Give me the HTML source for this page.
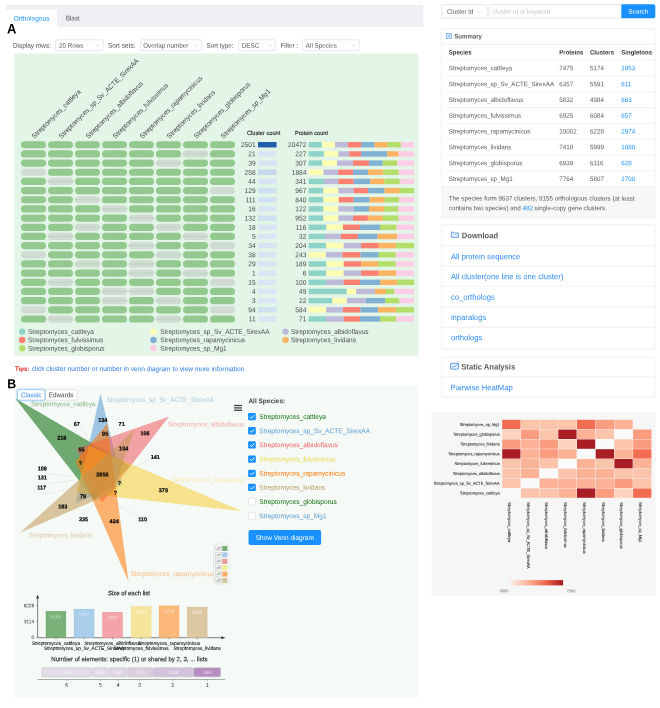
<!DOCTYPE html>
<html><head><meta charset="utf-8"><title>OrthoVenn</title>
<style>
html,body{margin:0;padding:0;background:#fff;}
body{width:660px;height:708px;position:relative;overflow:hidden;font-family:"Liberation Sans", sans-serif;}
svg{position:absolute;left:0;top:0;overflow:hidden;will-change:transform;}
svg text{font-family:"Liberation Sans", sans-serif;text-rendering:geometricPrecision;white-space:pre;}
</style></head><body>
<svg width="660" height="708" viewBox="0 0 660 708">
<rect x="6.00" y="4.80" width="417.20" height="22.20" fill="#eef0f5" />
<path d="M6 27 V11.2 Q6 9.7 7.5 9.7 H55.5 Q57 9.7 57 11.2 V27 Z" fill="#fff"/>
<text x="13.70" y="20.53" font-size="6.57" fill="#1890ff" font-weight="400" text-anchor="start" transform="translate(13.70 18.30) rotate(0.03) scale(1 1.06) translate(-13.70 -18.30)" >Orthologous</text>
<text x="65.70" y="20.48" font-size="6.4" fill="#595959" font-weight="400" text-anchor="start" transform="translate(65.70 18.30) rotate(0.03) scale(1 1.06) translate(-65.70 -18.30)" >Blast</text>
<text x="7.10" y="33.32" font-size="13" fill="#000" font-weight="700" text-anchor="start" transform="translate(7.10 28.90) rotate(0.03) scale(1 1.06) translate(-7.10 -28.90)" >A</text>
<text x="13.00" y="47.57" font-size="6.39" fill="#4a4a4a" font-weight="400" text-anchor="start" transform="translate(13.00 45.40) rotate(0.03) scale(1 1.06) translate(-13.00 -45.40)" >Display rows:</text>
<rect x="55.55" y="39.75" width="47.70" height="10.90" fill="#fff" stroke="#cfcfcf" stroke-width="0.5" rx="1.5" />
<text x="59.00" y="47.54" font-size="6.3" fill="#595959" font-weight="400" text-anchor="start" transform="translate(59.00 45.40) rotate(0.03) scale(1 1.06) translate(-59.00 -45.40)" >20 Rows</text>
<path d="M96.00 44.50 L97.90 46.50 L99.80 44.50" fill="none" stroke="#bfbfbf" stroke-width="0.55"/>
<text x="108.00" y="47.61" font-size="6.5" fill="#4a4a4a" font-weight="400" text-anchor="start" transform="translate(108.00 45.40) rotate(0.03) scale(1 1.06) translate(-108.00 -45.40)" >Sort sets:</text>
<rect x="140.25" y="39.75" width="61.50" height="10.90" fill="#fff" stroke="#cfcfcf" stroke-width="0.5" rx="1.5" />
<text x="143.20" y="47.54" font-size="6.3" fill="#595959" font-weight="400" text-anchor="start" transform="translate(143.20 45.40) rotate(0.03) scale(1 1.06) translate(-143.20 -45.40)" >Overlap number</text>
<path d="M194.50 44.50 L196.40 46.50 L198.30 44.50" fill="none" stroke="#bfbfbf" stroke-width="0.55"/>
<text x="206.50" y="47.54" font-size="6.3" fill="#4a4a4a" font-weight="400" text-anchor="start" transform="translate(206.50 45.40) rotate(0.03) scale(1 1.06) translate(-206.50 -45.40)" >Sort type:</text>
<rect x="238.75" y="39.75" width="36.50" height="10.90" fill="#fff" stroke="#cfcfcf" stroke-width="0.5" rx="1.5" />
<text x="241.80" y="47.54" font-size="6.3" fill="#595959" font-weight="400" text-anchor="start" transform="translate(241.80 45.40) rotate(0.03) scale(1 1.06) translate(-241.80 -45.40)" >DESC</text>
<path d="M268.00 44.50 L269.90 46.50 L271.80 44.50" fill="none" stroke="#bfbfbf" stroke-width="0.55"/>
<text x="280.50" y="47.54" font-size="6.3" fill="#4a4a4a" font-weight="400" text-anchor="start" transform="translate(280.50 45.40) rotate(0.03) scale(1 1.06) translate(-280.50 -45.40)" >Filter :</text>
<rect x="302.25" y="39.75" width="57.10" height="10.90" fill="#fff" stroke="#cfcfcf" stroke-width="0.5" rx="1.5" />
<text x="305.80" y="47.54" font-size="6.3" fill="#595959" font-weight="400" text-anchor="start" transform="translate(305.80 45.40) rotate(0.03) scale(1 1.06) translate(-305.80 -45.40)" >All Species</text>
<path d="M352.10 44.50 L354.00 46.50 L355.90 44.50" fill="none" stroke="#bfbfbf" stroke-width="0.55"/>
<rect x="14.20" y="53.50" width="404.30" height="302.40" fill="#e3f5e7" />
<rect x="14.20" y="385.80" width="404.40" height="311.20" fill="#f5faf6" />
<rect x="21.00" y="141.15" width="25.00" height="7.20" fill="#93c88f" rx="3.6" />
<rect x="48.00" y="141.15" width="25.00" height="7.20" fill="#93c88f" rx="3.6" />
<rect x="75.00" y="141.15" width="25.00" height="7.20" fill="#93c88f" rx="3.6" />
<rect x="102.00" y="141.15" width="25.00" height="7.20" fill="#93c88f" rx="3.6" />
<rect x="129.00" y="141.15" width="25.00" height="7.20" fill="#93c88f" rx="3.6" />
<rect x="156.00" y="141.15" width="25.00" height="7.20" fill="#93c88f" rx="3.6" />
<rect x="183.00" y="141.15" width="25.00" height="7.20" fill="#93c88f" rx="3.6" />
<rect x="210.00" y="141.15" width="25.00" height="7.20" fill="#93c88f" rx="3.6" />
<text x="255.60" y="146.99" font-size="6.6" fill="#4a4a4a" font-weight="400" text-anchor="end" transform="translate(255.60 144.75) rotate(0.03) scale(1 1.06) translate(-255.60 -144.75)" >2501</text>
<rect x="258.00" y="142.05" width="18.60" height="5.40" fill="#1f5fa9" />
<text x="306.40" y="146.99" font-size="6.6" fill="#4a4a4a" font-weight="400" text-anchor="end" transform="translate(306.40 144.75) rotate(0.03) scale(1 1.06) translate(-306.40 -144.75)" >20472</text>
<rect x="308.60" y="142.05" width="13.23" height="5.40" fill="#8dd3c7" />
<rect x="321.78" y="142.05" width="13.23" height="5.40" fill="#ffffb3" />
<rect x="334.95" y="142.05" width="13.22" height="5.40" fill="#bebada" />
<rect x="348.12" y="142.05" width="13.23" height="5.40" fill="#fb8072" />
<rect x="361.30" y="142.05" width="13.23" height="5.40" fill="#80b1d3" />
<rect x="374.48" y="142.05" width="13.22" height="5.40" fill="#fdb462" />
<rect x="387.65" y="142.05" width="13.23" height="5.40" fill="#b3de69" />
<rect x="400.82" y="142.05" width="13.23" height="5.40" fill="#fccde5" />
<rect x="21.00" y="150.32" width="25.00" height="7.20" fill="#93c88f" rx="3.6" />
<rect x="48.00" y="150.32" width="25.00" height="7.20" fill="#93c88f" rx="3.6" />
<rect x="75.00" y="150.32" width="25.00" height="7.20" fill="#93c88f" rx="3.6" />
<rect x="102.00" y="150.32" width="25.00" height="7.20" fill="#93c88f" rx="3.6" />
<rect x="129.00" y="150.32" width="25.00" height="7.20" fill="#93c88f" rx="3.6" />
<rect x="156.00" y="150.32" width="25.00" height="7.20" fill="#93c88f" rx="3.6" />
<rect x="183.00" y="150.32" width="25.00" height="7.20" fill="#d0dcd2" rx="3.6" />
<line x1="182.00" y1="153.92" x2="209.00" y2="153.92" stroke="#bccabf" stroke-width="0.6"/>
<rect x="210.00" y="150.32" width="25.00" height="7.20" fill="#93c88f" rx="3.6" />
<text x="255.60" y="156.16" font-size="6.6" fill="#4a4a4a" font-weight="400" text-anchor="end" transform="translate(255.60 153.92) rotate(0.03) scale(1 1.06) translate(-255.60 -153.92)" >21</text>
<rect x="258.00" y="151.22" width="18.60" height="5.40" fill="#d7e5f4" />
<text x="306.40" y="156.16" font-size="6.6" fill="#4a4a4a" font-weight="400" text-anchor="end" transform="translate(306.40 153.92) rotate(0.03) scale(1 1.06) translate(-306.40 -153.92)" >227</text>
<rect x="308.60" y="151.22" width="15.35" height="5.40" fill="#8dd3c7" />
<rect x="323.90" y="151.22" width="14.50" height="5.40" fill="#ffffb3" />
<rect x="338.35" y="151.22" width="11.10" height="5.40" fill="#bebada" />
<rect x="349.40" y="151.22" width="11.74" height="5.40" fill="#fb8072" />
<rect x="361.09" y="151.22" width="26.19" height="5.40" fill="#80b1d3" />
<rect x="387.23" y="151.22" width="11.52" height="5.40" fill="#fdb462" />
<rect x="398.70" y="151.22" width="15.35" height="5.40" fill="#fccde5" />
<rect x="21.00" y="159.49" width="25.00" height="7.20" fill="#93c88f" rx="3.6" />
<rect x="48.00" y="159.49" width="25.00" height="7.20" fill="#93c88f" rx="3.6" />
<rect x="75.00" y="159.49" width="25.00" height="7.20" fill="#93c88f" rx="3.6" />
<rect x="102.00" y="159.49" width="25.00" height="7.20" fill="#93c88f" rx="3.6" />
<rect x="129.00" y="159.49" width="25.00" height="7.20" fill="#93c88f" rx="3.6" />
<rect x="156.00" y="159.49" width="25.00" height="7.20" fill="#d0dcd2" rx="3.6" />
<line x1="155.00" y1="163.09" x2="182.00" y2="163.09" stroke="#bccabf" stroke-width="0.6"/>
<rect x="183.00" y="159.49" width="25.00" height="7.20" fill="#93c88f" rx="3.6" />
<rect x="210.00" y="159.49" width="25.00" height="7.20" fill="#93c88f" rx="3.6" />
<text x="255.60" y="165.33" font-size="6.6" fill="#4a4a4a" font-weight="400" text-anchor="end" transform="translate(255.60 163.09) rotate(0.03) scale(1 1.06) translate(-255.60 -163.09)" >39</text>
<rect x="258.00" y="160.39" width="18.60" height="5.40" fill="#d6e4f4" />
<text x="306.40" y="165.33" font-size="6.6" fill="#4a4a4a" font-weight="400" text-anchor="end" transform="translate(306.40 163.09) rotate(0.03) scale(1 1.06) translate(-306.40 -163.09)" >307</text>
<rect x="308.60" y="160.39" width="13.65" height="5.40" fill="#8dd3c7" />
<rect x="322.20" y="160.39" width="14.92" height="5.40" fill="#ffffb3" />
<rect x="337.07" y="160.39" width="15.99" height="5.40" fill="#bebada" />
<rect x="353.01" y="160.39" width="15.99" height="5.40" fill="#fb8072" />
<rect x="368.95" y="160.39" width="13.86" height="5.40" fill="#80b1d3" />
<rect x="382.76" y="160.39" width="14.50" height="5.40" fill="#b3de69" />
<rect x="397.21" y="160.39" width="16.84" height="5.40" fill="#fccde5" />
<rect x="21.00" y="168.66" width="25.00" height="7.20" fill="#d0dcd2" rx="3.6" />
<rect x="48.00" y="168.66" width="25.00" height="7.20" fill="#93c88f" rx="3.6" />
<rect x="75.00" y="168.66" width="25.00" height="7.20" fill="#93c88f" rx="3.6" />
<rect x="102.00" y="168.66" width="25.00" height="7.20" fill="#93c88f" rx="3.6" />
<rect x="129.00" y="168.66" width="25.00" height="7.20" fill="#93c88f" rx="3.6" />
<rect x="156.00" y="168.66" width="25.00" height="7.20" fill="#93c88f" rx="3.6" />
<rect x="183.00" y="168.66" width="25.00" height="7.20" fill="#93c88f" rx="3.6" />
<rect x="210.00" y="168.66" width="25.00" height="7.20" fill="#93c88f" rx="3.6" />
<text x="255.60" y="174.50" font-size="6.6" fill="#4a4a4a" font-weight="400" text-anchor="end" transform="translate(255.60 172.26) rotate(0.03) scale(1 1.06) translate(-255.60 -172.26)" >258</text>
<rect x="258.00" y="169.56" width="18.60" height="5.40" fill="#c6d8ed" />
<text x="306.40" y="174.50" font-size="6.6" fill="#4a4a4a" font-weight="400" text-anchor="end" transform="translate(306.40 172.26) rotate(0.03) scale(1 1.06) translate(-306.40 -172.26)" >1884</text>
<rect x="308.60" y="169.56" width="14.93" height="5.40" fill="#ffffb3" />
<rect x="323.48" y="169.56" width="14.71" height="5.40" fill="#bebada" />
<rect x="338.14" y="169.56" width="14.93" height="5.40" fill="#fb8072" />
<rect x="353.01" y="169.56" width="15.14" height="5.40" fill="#80b1d3" />
<rect x="368.10" y="169.56" width="15.35" height="5.40" fill="#fdb462" />
<rect x="383.40" y="169.56" width="15.35" height="5.40" fill="#b3de69" />
<rect x="398.70" y="169.56" width="15.35" height="5.40" fill="#fccde5" />
<rect x="21.00" y="177.83" width="25.00" height="7.20" fill="#93c88f" rx="3.6" />
<rect x="48.00" y="177.83" width="25.00" height="7.20" fill="#d0dcd2" rx="3.6" />
<line x1="47.00" y1="181.43" x2="74.00" y2="181.43" stroke="#bccabf" stroke-width="0.6"/>
<rect x="75.00" y="177.83" width="25.00" height="7.20" fill="#93c88f" rx="3.6" />
<rect x="102.00" y="177.83" width="25.00" height="7.20" fill="#93c88f" rx="3.6" />
<rect x="129.00" y="177.83" width="25.00" height="7.20" fill="#93c88f" rx="3.6" />
<rect x="156.00" y="177.83" width="25.00" height="7.20" fill="#93c88f" rx="3.6" />
<rect x="183.00" y="177.83" width="25.00" height="7.20" fill="#93c88f" rx="3.6" />
<rect x="210.00" y="177.83" width="25.00" height="7.20" fill="#93c88f" rx="3.6" />
<text x="255.60" y="183.67" font-size="6.6" fill="#4a4a4a" font-weight="400" text-anchor="end" transform="translate(255.60 181.43) rotate(0.03) scale(1 1.06) translate(-255.60 -181.43)" >44</text>
<rect x="258.00" y="178.73" width="18.60" height="5.40" fill="#d6e4f4" />
<text x="306.40" y="183.67" font-size="6.6" fill="#4a4a4a" font-weight="400" text-anchor="end" transform="translate(306.40 181.43) rotate(0.03) scale(1 1.06) translate(-306.40 -181.43)" >341</text>
<rect x="308.60" y="178.73" width="15.35" height="5.40" fill="#8dd3c7" />
<rect x="323.90" y="178.73" width="14.50" height="5.40" fill="#bebada" />
<rect x="338.35" y="178.73" width="15.35" height="5.40" fill="#fb8072" />
<rect x="353.65" y="178.73" width="16.62" height="5.40" fill="#80b1d3" />
<rect x="370.23" y="178.73" width="14.29" height="5.40" fill="#fdb462" />
<rect x="384.46" y="178.73" width="15.35" height="5.40" fill="#b3de69" />
<rect x="399.76" y="178.73" width="14.29" height="5.40" fill="#fccde5" />
<rect x="21.00" y="187.00" width="25.00" height="7.20" fill="#93c88f" rx="3.6" />
<rect x="48.00" y="187.00" width="25.00" height="7.20" fill="#93c88f" rx="3.6" />
<rect x="75.00" y="187.00" width="25.00" height="7.20" fill="#93c88f" rx="3.6" />
<rect x="102.00" y="187.00" width="25.00" height="7.20" fill="#93c88f" rx="3.6" />
<rect x="129.00" y="187.00" width="25.00" height="7.20" fill="#93c88f" rx="3.6" />
<rect x="156.00" y="187.00" width="25.00" height="7.20" fill="#93c88f" rx="3.6" />
<rect x="183.00" y="187.00" width="25.00" height="7.20" fill="#93c88f" rx="3.6" />
<rect x="210.00" y="187.00" width="25.00" height="7.20" fill="#d0dcd2" rx="3.6" />
<text x="255.60" y="192.84" font-size="6.6" fill="#4a4a4a" font-weight="400" text-anchor="end" transform="translate(255.60 190.60) rotate(0.03) scale(1 1.06) translate(-255.60 -190.60)" >129</text>
<rect x="258.00" y="187.90" width="18.60" height="5.40" fill="#cfdff1" />
<text x="306.40" y="192.84" font-size="6.6" fill="#4a4a4a" font-weight="400" text-anchor="end" transform="translate(306.40 190.60) rotate(0.03) scale(1 1.06) translate(-306.40 -190.60)" >967</text>
<rect x="308.60" y="187.90" width="14.93" height="5.40" fill="#8dd3c7" />
<rect x="323.48" y="187.90" width="14.93" height="5.40" fill="#ffffb3" />
<rect x="338.35" y="187.90" width="15.35" height="5.40" fill="#bebada" />
<rect x="353.65" y="187.90" width="14.50" height="5.40" fill="#fb8072" />
<rect x="368.10" y="187.90" width="16.41" height="5.40" fill="#80b1d3" />
<rect x="384.46" y="187.90" width="15.35" height="5.40" fill="#fdb462" />
<rect x="399.76" y="187.90" width="14.29" height="5.40" fill="#b3de69" />
<rect x="21.00" y="196.17" width="25.00" height="7.20" fill="#93c88f" rx="3.6" />
<rect x="48.00" y="196.17" width="25.00" height="7.20" fill="#93c88f" rx="3.6" />
<rect x="75.00" y="196.17" width="25.00" height="7.20" fill="#d0dcd2" rx="3.6" />
<line x1="74.00" y1="199.77" x2="101.00" y2="199.77" stroke="#bccabf" stroke-width="0.6"/>
<rect x="102.00" y="196.17" width="25.00" height="7.20" fill="#93c88f" rx="3.6" />
<rect x="129.00" y="196.17" width="25.00" height="7.20" fill="#93c88f" rx="3.6" />
<rect x="156.00" y="196.17" width="25.00" height="7.20" fill="#93c88f" rx="3.6" />
<rect x="183.00" y="196.17" width="25.00" height="7.20" fill="#93c88f" rx="3.6" />
<rect x="210.00" y="196.17" width="25.00" height="7.20" fill="#93c88f" rx="3.6" />
<text x="255.60" y="202.01" font-size="6.6" fill="#4a4a4a" font-weight="400" text-anchor="end" transform="translate(255.60 199.77) rotate(0.03) scale(1 1.06) translate(-255.60 -199.77)" >111</text>
<rect x="258.00" y="197.07" width="18.60" height="5.40" fill="#d1e0f2" />
<text x="306.40" y="202.01" font-size="6.6" fill="#4a4a4a" font-weight="400" text-anchor="end" transform="translate(306.40 199.77) rotate(0.03) scale(1 1.06) translate(-306.40 -199.77)" >840</text>
<rect x="308.60" y="197.07" width="14.93" height="5.40" fill="#8dd3c7" />
<rect x="323.48" y="197.07" width="15.35" height="5.40" fill="#ffffb3" />
<rect x="338.78" y="197.07" width="14.93" height="5.40" fill="#fb8072" />
<rect x="353.65" y="197.07" width="15.99" height="5.40" fill="#80b1d3" />
<rect x="369.59" y="197.07" width="14.93" height="5.40" fill="#fdb462" />
<rect x="384.46" y="197.07" width="14.71" height="5.40" fill="#b3de69" />
<rect x="399.12" y="197.07" width="14.93" height="5.40" fill="#fccde5" />
<rect x="21.00" y="205.34" width="25.00" height="7.20" fill="#93c88f" rx="3.6" />
<rect x="48.00" y="205.34" width="25.00" height="7.20" fill="#93c88f" rx="3.6" />
<rect x="75.00" y="205.34" width="25.00" height="7.20" fill="#93c88f" rx="3.6" />
<rect x="102.00" y="205.34" width="25.00" height="7.20" fill="#d0dcd2" rx="3.6" />
<line x1="101.00" y1="208.94" x2="128.00" y2="208.94" stroke="#bccabf" stroke-width="0.6"/>
<rect x="129.00" y="205.34" width="25.00" height="7.20" fill="#93c88f" rx="3.6" />
<rect x="156.00" y="205.34" width="25.00" height="7.20" fill="#93c88f" rx="3.6" />
<rect x="183.00" y="205.34" width="25.00" height="7.20" fill="#93c88f" rx="3.6" />
<rect x="210.00" y="205.34" width="25.00" height="7.20" fill="#93c88f" rx="3.6" />
<text x="255.60" y="211.18" font-size="6.6" fill="#4a4a4a" font-weight="400" text-anchor="end" transform="translate(255.60 208.94) rotate(0.03) scale(1 1.06) translate(-255.60 -208.94)" >16</text>
<rect x="258.00" y="206.24" width="18.60" height="5.40" fill="#d8e5f5" />
<text x="306.40" y="211.18" font-size="6.6" fill="#4a4a4a" font-weight="400" text-anchor="end" transform="translate(306.40 208.94) rotate(0.03) scale(1 1.06) translate(-306.40 -208.94)" >122</text>
<rect x="308.60" y="206.24" width="14.93" height="5.40" fill="#8dd3c7" />
<rect x="323.48" y="206.24" width="14.93" height="5.40" fill="#ffffb3" />
<rect x="338.35" y="206.24" width="15.77" height="5.40" fill="#bebada" />
<rect x="354.07" y="206.24" width="14.93" height="5.40" fill="#80b1d3" />
<rect x="368.95" y="206.24" width="15.56" height="5.40" fill="#fdb462" />
<rect x="384.46" y="206.24" width="13.86" height="5.40" fill="#b3de69" />
<rect x="398.27" y="206.24" width="15.78" height="5.40" fill="#fccde5" />
<rect x="21.00" y="214.51" width="25.00" height="7.20" fill="#93c88f" rx="3.6" />
<rect x="48.00" y="214.51" width="25.00" height="7.20" fill="#93c88f" rx="3.6" />
<rect x="75.00" y="214.51" width="25.00" height="7.20" fill="#93c88f" rx="3.6" />
<rect x="102.00" y="214.51" width="25.00" height="7.20" fill="#93c88f" rx="3.6" />
<rect x="129.00" y="214.51" width="25.00" height="7.20" fill="#d0dcd2" rx="3.6" />
<line x1="128.00" y1="218.11" x2="155.00" y2="218.11" stroke="#bccabf" stroke-width="0.6"/>
<rect x="156.00" y="214.51" width="25.00" height="7.20" fill="#93c88f" rx="3.6" />
<rect x="183.00" y="214.51" width="25.00" height="7.20" fill="#93c88f" rx="3.6" />
<rect x="210.00" y="214.51" width="25.00" height="7.20" fill="#93c88f" rx="3.6" />
<text x="255.60" y="220.35" font-size="6.6" fill="#4a4a4a" font-weight="400" text-anchor="end" transform="translate(255.60 218.11) rotate(0.03) scale(1 1.06) translate(-255.60 -218.11)" >132</text>
<rect x="258.00" y="215.41" width="18.60" height="5.40" fill="#cfdff1" />
<text x="306.40" y="220.35" font-size="6.6" fill="#4a4a4a" font-weight="400" text-anchor="end" transform="translate(306.40 218.11) rotate(0.03) scale(1 1.06) translate(-306.40 -218.11)" >952</text>
<rect x="308.60" y="215.41" width="14.93" height="5.40" fill="#8dd3c7" />
<rect x="323.48" y="215.41" width="14.93" height="5.40" fill="#ffffb3" />
<rect x="338.35" y="215.41" width="14.71" height="5.40" fill="#bebada" />
<rect x="353.01" y="215.41" width="14.92" height="5.40" fill="#fb8072" />
<rect x="367.89" y="215.41" width="14.93" height="5.40" fill="#fdb462" />
<rect x="382.76" y="215.41" width="15.99" height="5.40" fill="#b3de69" />
<rect x="398.70" y="215.41" width="15.35" height="5.40" fill="#fccde5" />
<rect x="21.00" y="223.68" width="25.00" height="7.20" fill="#93c88f" rx="3.6" />
<rect x="48.00" y="223.68" width="25.00" height="7.20" fill="#93c88f" rx="3.6" />
<rect x="75.00" y="223.68" width="25.00" height="7.20" fill="#d0dcd2" rx="3.6" />
<line x1="74.00" y1="227.28" x2="101.00" y2="227.28" stroke="#bccabf" stroke-width="0.6"/>
<rect x="102.00" y="223.68" width="25.00" height="7.20" fill="#93c88f" rx="3.6" />
<rect x="129.00" y="223.68" width="25.00" height="7.20" fill="#93c88f" rx="3.6" />
<rect x="156.00" y="223.68" width="25.00" height="7.20" fill="#d0dcd2" rx="3.6" />
<line x1="155.00" y1="227.28" x2="182.00" y2="227.28" stroke="#bccabf" stroke-width="0.6"/>
<rect x="183.00" y="223.68" width="25.00" height="7.20" fill="#93c88f" rx="3.6" />
<rect x="210.00" y="223.68" width="25.00" height="7.20" fill="#93c88f" rx="3.6" />
<text x="255.60" y="229.52" font-size="6.6" fill="#4a4a4a" font-weight="400" text-anchor="end" transform="translate(255.60 227.28) rotate(0.03) scale(1 1.06) translate(-255.60 -227.28)" >18</text>
<rect x="258.00" y="224.58" width="18.60" height="5.40" fill="#d8e5f4" />
<text x="306.40" y="229.52" font-size="6.6" fill="#4a4a4a" font-weight="400" text-anchor="end" transform="translate(306.40 227.28) rotate(0.03) scale(1 1.06) translate(-306.40 -227.28)" >116</text>
<rect x="308.60" y="224.58" width="17.90" height="5.40" fill="#8dd3c7" />
<rect x="326.45" y="224.58" width="16.62" height="5.40" fill="#ffffb3" />
<rect x="343.03" y="224.58" width="17.05" height="5.40" fill="#fb8072" />
<rect x="360.03" y="224.58" width="20.02" height="5.40" fill="#80b1d3" />
<rect x="380.00" y="224.58" width="16.62" height="5.40" fill="#b3de69" />
<rect x="396.57" y="224.58" width="17.48" height="5.40" fill="#fccde5" />
<rect x="21.00" y="232.85" width="25.00" height="7.20" fill="#93c88f" rx="3.6" />
<rect x="48.00" y="232.85" width="25.00" height="7.20" fill="#d0dcd2" rx="3.6" />
<line x1="47.00" y1="236.45" x2="74.00" y2="236.45" stroke="#bccabf" stroke-width="0.6"/>
<rect x="75.00" y="232.85" width="25.00" height="7.20" fill="#93c88f" rx="3.6" />
<rect x="102.00" y="232.85" width="25.00" height="7.20" fill="#93c88f" rx="3.6" />
<rect x="129.00" y="232.85" width="25.00" height="7.20" fill="#93c88f" rx="3.6" />
<rect x="156.00" y="232.85" width="25.00" height="7.20" fill="#93c88f" rx="3.6" />
<rect x="183.00" y="232.85" width="25.00" height="7.20" fill="#d0dcd2" rx="3.6" />
<line x1="182.00" y1="236.45" x2="209.00" y2="236.45" stroke="#bccabf" stroke-width="0.6"/>
<rect x="210.00" y="232.85" width="25.00" height="7.20" fill="#93c88f" rx="3.6" />
<text x="255.60" y="238.69" font-size="6.6" fill="#4a4a4a" font-weight="400" text-anchor="end" transform="translate(255.60 236.45) rotate(0.03) scale(1 1.06) translate(-255.60 -236.45)" >5</text>
<rect x="258.00" y="233.75" width="18.60" height="5.40" fill="#d9e6f5" />
<text x="306.40" y="238.69" font-size="6.6" fill="#4a4a4a" font-weight="400" text-anchor="end" transform="translate(306.40 236.45) rotate(0.03) scale(1 1.06) translate(-306.40 -236.45)" >32</text>
<rect x="308.60" y="233.75" width="16.41" height="5.40" fill="#8dd3c7" />
<rect x="324.96" y="233.75" width="15.99" height="5.40" fill="#bebada" />
<rect x="340.90" y="233.75" width="17.05" height="5.40" fill="#fb8072" />
<rect x="357.90" y="233.75" width="19.60" height="5.40" fill="#80b1d3" />
<rect x="377.45" y="233.75" width="19.81" height="5.40" fill="#fdb462" />
<rect x="397.21" y="233.75" width="16.84" height="5.40" fill="#fccde5" />
<rect x="21.00" y="242.02" width="25.00" height="7.20" fill="#93c88f" rx="3.6" />
<rect x="48.00" y="242.02" width="25.00" height="7.20" fill="#93c88f" rx="3.6" />
<rect x="75.00" y="242.02" width="25.00" height="7.20" fill="#93c88f" rx="3.6" />
<rect x="102.00" y="242.02" width="25.00" height="7.20" fill="#93c88f" rx="3.6" />
<rect x="129.00" y="242.02" width="25.00" height="7.20" fill="#d0dcd2" rx="3.6" />
<line x1="128.00" y1="245.62" x2="155.00" y2="245.62" stroke="#bccabf" stroke-width="0.6"/>
<rect x="156.00" y="242.02" width="25.00" height="7.20" fill="#93c88f" rx="3.6" />
<rect x="183.00" y="242.02" width="25.00" height="7.20" fill="#93c88f" rx="3.6" />
<rect x="210.00" y="242.02" width="25.00" height="7.20" fill="#d0dcd2" rx="3.6" />
<text x="255.60" y="247.86" font-size="6.6" fill="#4a4a4a" font-weight="400" text-anchor="end" transform="translate(255.60 245.62) rotate(0.03) scale(1 1.06) translate(-255.60 -245.62)" >34</text>
<rect x="258.00" y="242.92" width="18.60" height="5.40" fill="#d6e4f4" />
<text x="306.40" y="247.86" font-size="6.6" fill="#4a4a4a" font-weight="400" text-anchor="end" transform="translate(306.40 245.62) rotate(0.03) scale(1 1.06) translate(-306.40 -245.62)" >204</text>
<rect x="308.60" y="242.92" width="17.48" height="5.40" fill="#8dd3c7" />
<rect x="326.03" y="242.92" width="17.69" height="5.40" fill="#ffffb3" />
<rect x="343.66" y="242.92" width="17.48" height="5.40" fill="#bebada" />
<rect x="361.09" y="242.92" width="17.69" height="5.40" fill="#fb8072" />
<rect x="378.73" y="242.92" width="17.47" height="5.40" fill="#fdb462" />
<rect x="396.15" y="242.92" width="17.90" height="5.40" fill="#b3de69" />
<rect x="21.00" y="251.19" width="25.00" height="7.20" fill="#d0dcd2" rx="3.6" />
<rect x="48.00" y="251.19" width="25.00" height="7.20" fill="#93c88f" rx="3.6" />
<rect x="75.00" y="251.19" width="25.00" height="7.20" fill="#93c88f" rx="3.6" />
<rect x="102.00" y="251.19" width="25.00" height="7.20" fill="#93c88f" rx="3.6" />
<rect x="129.00" y="251.19" width="25.00" height="7.20" fill="#93c88f" rx="3.6" />
<rect x="156.00" y="251.19" width="25.00" height="7.20" fill="#d0dcd2" rx="3.6" />
<line x1="155.00" y1="254.79" x2="182.00" y2="254.79" stroke="#bccabf" stroke-width="0.6"/>
<rect x="183.00" y="251.19" width="25.00" height="7.20" fill="#93c88f" rx="3.6" />
<rect x="210.00" y="251.19" width="25.00" height="7.20" fill="#93c88f" rx="3.6" />
<text x="255.60" y="257.03" font-size="6.6" fill="#4a4a4a" font-weight="400" text-anchor="end" transform="translate(255.60 254.79) rotate(0.03) scale(1 1.06) translate(-255.60 -254.79)" >38</text>
<rect x="258.00" y="252.09" width="18.60" height="5.40" fill="#d6e4f4" />
<text x="306.40" y="257.03" font-size="6.6" fill="#4a4a4a" font-weight="400" text-anchor="end" transform="translate(306.40 254.79) rotate(0.03) scale(1 1.06) translate(-306.40 -254.79)" >243</text>
<rect x="308.60" y="252.09" width="17.48" height="5.40" fill="#ffffb3" />
<rect x="326.03" y="252.09" width="16.41" height="5.40" fill="#bebada" />
<rect x="342.39" y="252.09" width="18.11" height="5.40" fill="#fb8072" />
<rect x="360.45" y="252.09" width="18.33" height="5.40" fill="#80b1d3" />
<rect x="378.73" y="252.09" width="17.05" height="5.40" fill="#b3de69" />
<rect x="395.73" y="252.09" width="18.32" height="5.40" fill="#fccde5" />
<rect x="21.00" y="260.36" width="25.00" height="7.20" fill="#93c88f" rx="3.6" />
<rect x="48.00" y="260.36" width="25.00" height="7.20" fill="#93c88f" rx="3.6" />
<rect x="75.00" y="260.36" width="25.00" height="7.20" fill="#d0dcd2" rx="3.6" />
<line x1="74.00" y1="263.96" x2="101.00" y2="263.96" stroke="#bccabf" stroke-width="0.6"/>
<rect x="102.00" y="260.36" width="25.00" height="7.20" fill="#93c88f" rx="3.6" />
<rect x="129.00" y="260.36" width="25.00" height="7.20" fill="#d0dcd2" rx="3.6" />
<line x1="128.00" y1="263.96" x2="155.00" y2="263.96" stroke="#bccabf" stroke-width="0.6"/>
<rect x="156.00" y="260.36" width="25.00" height="7.20" fill="#93c88f" rx="3.6" />
<rect x="183.00" y="260.36" width="25.00" height="7.20" fill="#93c88f" rx="3.6" />
<rect x="210.00" y="260.36" width="25.00" height="7.20" fill="#93c88f" rx="3.6" />
<text x="255.60" y="266.20" font-size="6.6" fill="#4a4a4a" font-weight="400" text-anchor="end" transform="translate(255.60 263.96) rotate(0.03) scale(1 1.06) translate(-255.60 -263.96)" >29</text>
<rect x="258.00" y="261.26" width="18.60" height="5.40" fill="#d7e4f4" />
<text x="306.40" y="266.20" font-size="6.6" fill="#4a4a4a" font-weight="400" text-anchor="end" transform="translate(306.40 263.96) rotate(0.03) scale(1 1.06) translate(-306.40 -263.96)" >189</text>
<rect x="308.60" y="261.26" width="17.90" height="5.40" fill="#8dd3c7" />
<rect x="326.45" y="261.26" width="17.26" height="5.40" fill="#ffffb3" />
<rect x="343.66" y="261.26" width="17.48" height="5.40" fill="#fb8072" />
<rect x="361.09" y="261.26" width="17.05" height="5.40" fill="#fdb462" />
<rect x="378.09" y="261.26" width="17.69" height="5.40" fill="#b3de69" />
<rect x="395.73" y="261.26" width="18.32" height="5.40" fill="#fccde5" />
<rect x="21.00" y="269.53" width="25.00" height="7.20" fill="#93c88f" rx="3.6" />
<rect x="48.00" y="269.53" width="25.00" height="7.20" fill="#93c88f" rx="3.6" />
<rect x="75.00" y="269.53" width="25.00" height="7.20" fill="#93c88f" rx="3.6" />
<rect x="102.00" y="269.53" width="25.00" height="7.20" fill="#93c88f" rx="3.6" />
<rect x="129.00" y="269.53" width="25.00" height="7.20" fill="#d0dcd2" rx="3.6" />
<line x1="128.00" y1="273.13" x2="155.00" y2="273.13" stroke="#bccabf" stroke-width="0.6"/>
<rect x="156.00" y="269.53" width="25.00" height="7.20" fill="#93c88f" rx="3.6" />
<rect x="183.00" y="269.53" width="25.00" height="7.20" fill="#d0dcd2" rx="3.6" />
<line x1="182.00" y1="273.13" x2="209.00" y2="273.13" stroke="#bccabf" stroke-width="0.6"/>
<rect x="210.00" y="269.53" width="25.00" height="7.20" fill="#93c88f" rx="3.6" />
<text x="255.60" y="275.37" font-size="6.6" fill="#4a4a4a" font-weight="400" text-anchor="end" transform="translate(255.60 273.13) rotate(0.03) scale(1 1.06) translate(-255.60 -273.13)" >1</text>
<rect x="258.00" y="270.43" width="18.60" height="5.40" fill="#d9e6f5" />
<text x="306.40" y="275.37" font-size="6.6" fill="#4a4a4a" font-weight="400" text-anchor="end" transform="translate(306.40 273.13) rotate(0.03) scale(1 1.06) translate(-306.40 -273.13)" >6</text>
<rect x="308.60" y="270.43" width="17.48" height="5.40" fill="#8dd3c7" />
<rect x="326.03" y="270.43" width="17.69" height="5.40" fill="#ffffb3" />
<rect x="343.66" y="270.43" width="17.48" height="5.40" fill="#bebada" />
<rect x="361.09" y="270.43" width="17.69" height="5.40" fill="#fb8072" />
<rect x="378.73" y="270.43" width="17.47" height="5.40" fill="#fdb462" />
<rect x="396.15" y="270.43" width="17.90" height="5.40" fill="#fccde5" />
<rect x="21.00" y="278.70" width="25.00" height="7.20" fill="#93c88f" rx="3.6" />
<rect x="48.00" y="278.70" width="25.00" height="7.20" fill="#d0dcd2" rx="3.6" />
<line x1="47.00" y1="282.30" x2="74.00" y2="282.30" stroke="#bccabf" stroke-width="0.6"/>
<rect x="75.00" y="278.70" width="25.00" height="7.20" fill="#93c88f" rx="3.6" />
<rect x="102.00" y="278.70" width="25.00" height="7.20" fill="#93c88f" rx="3.6" />
<rect x="129.00" y="278.70" width="25.00" height="7.20" fill="#93c88f" rx="3.6" />
<rect x="156.00" y="278.70" width="25.00" height="7.20" fill="#93c88f" rx="3.6" />
<rect x="183.00" y="278.70" width="25.00" height="7.20" fill="#93c88f" rx="3.6" />
<rect x="210.00" y="278.70" width="25.00" height="7.20" fill="#d0dcd2" rx="3.6" />
<text x="255.60" y="284.54" font-size="6.6" fill="#4a4a4a" font-weight="400" text-anchor="end" transform="translate(255.60 282.30) rotate(0.03) scale(1 1.06) translate(-255.60 -282.30)" >15</text>
<rect x="258.00" y="279.60" width="18.60" height="5.40" fill="#d8e5f5" />
<text x="306.40" y="284.54" font-size="6.6" fill="#4a4a4a" font-weight="400" text-anchor="end" transform="translate(306.40 282.30) rotate(0.03) scale(1 1.06) translate(-306.40 -282.30)" >100</text>
<rect x="308.60" y="279.60" width="17.48" height="5.40" fill="#8dd3c7" />
<rect x="326.03" y="279.60" width="17.69" height="5.40" fill="#bebada" />
<rect x="343.66" y="279.60" width="16.41" height="5.40" fill="#fb8072" />
<rect x="360.03" y="279.60" width="20.24" height="5.40" fill="#80b1d3" />
<rect x="380.21" y="279.60" width="17.05" height="5.40" fill="#fdb462" />
<rect x="397.21" y="279.60" width="16.84" height="5.40" fill="#b3de69" />
<rect x="21.00" y="287.87" width="25.00" height="7.20" fill="#93c88f" rx="3.6" />
<rect x="48.00" y="287.87" width="25.00" height="7.20" fill="#93c88f" rx="3.6" />
<rect x="75.00" y="287.87" width="25.00" height="7.20" fill="#93c88f" rx="3.6" />
<rect x="102.00" y="287.87" width="25.00" height="7.20" fill="#d0dcd2" rx="3.6" />
<line x1="101.00" y1="291.47" x2="128.00" y2="291.47" stroke="#bccabf" stroke-width="0.6"/>
<rect x="129.00" y="287.87" width="25.00" height="7.20" fill="#d0dcd2" rx="3.6" />
<line x1="128.00" y1="291.47" x2="155.00" y2="291.47" stroke="#bccabf" stroke-width="0.6"/>
<rect x="156.00" y="287.87" width="25.00" height="7.20" fill="#93c88f" rx="3.6" />
<rect x="183.00" y="287.87" width="25.00" height="7.20" fill="#93c88f" rx="3.6" />
<rect x="210.00" y="287.87" width="25.00" height="7.20" fill="#93c88f" rx="3.6" />
<text x="255.60" y="293.71" font-size="6.6" fill="#4a4a4a" font-weight="400" text-anchor="end" transform="translate(255.60 291.47) rotate(0.03) scale(1 1.06) translate(-255.60 -291.47)" >4</text>
<rect x="258.00" y="288.77" width="18.60" height="5.40" fill="#d9e6f5" />
<text x="306.40" y="293.71" font-size="6.6" fill="#4a4a4a" font-weight="400" text-anchor="end" transform="translate(306.40 291.47) rotate(0.03) scale(1 1.06) translate(-306.40 -291.47)" >49</text>
<rect x="308.60" y="288.77" width="38.30" height="5.40" fill="#8dd3c7" />
<rect x="346.85" y="288.77" width="9.40" height="5.40" fill="#ffffb3" />
<rect x="356.20" y="288.77" width="18.75" height="5.40" fill="#bebada" />
<rect x="374.90" y="288.77" width="11.10" height="5.40" fill="#fdb462" />
<rect x="385.95" y="288.77" width="8.55" height="5.40" fill="#b3de69" />
<rect x="394.45" y="288.77" width="19.60" height="5.40" fill="#fccde5" />
<rect x="21.00" y="297.04" width="25.00" height="7.20" fill="#93c88f" rx="3.6" />
<rect x="48.00" y="297.04" width="25.00" height="7.20" fill="#93c88f" rx="3.6" />
<rect x="75.00" y="297.04" width="25.00" height="7.20" fill="#93c88f" rx="3.6" />
<rect x="102.00" y="297.04" width="25.00" height="7.20" fill="#d0dcd2" rx="3.6" />
<line x1="101.00" y1="300.64" x2="128.00" y2="300.64" stroke="#bccabf" stroke-width="0.6"/>
<rect x="129.00" y="297.04" width="25.00" height="7.20" fill="#93c88f" rx="3.6" />
<rect x="156.00" y="297.04" width="25.00" height="7.20" fill="#d0dcd2" rx="3.6" />
<line x1="155.00" y1="300.64" x2="182.00" y2="300.64" stroke="#bccabf" stroke-width="0.6"/>
<rect x="183.00" y="297.04" width="25.00" height="7.20" fill="#93c88f" rx="3.6" />
<rect x="210.00" y="297.04" width="25.00" height="7.20" fill="#93c88f" rx="3.6" />
<text x="255.60" y="302.88" font-size="6.6" fill="#4a4a4a" font-weight="400" text-anchor="end" transform="translate(255.60 300.64) rotate(0.03) scale(1 1.06) translate(-255.60 -300.64)" >3</text>
<rect x="258.00" y="297.94" width="18.60" height="5.40" fill="#d9e6f5" />
<text x="306.40" y="302.88" font-size="6.6" fill="#4a4a4a" font-weight="400" text-anchor="end" transform="translate(306.40 300.64) rotate(0.03) scale(1 1.06) translate(-306.40 -300.64)" >22</text>
<rect x="308.60" y="297.94" width="23.85" height="5.40" fill="#8dd3c7" />
<rect x="332.40" y="297.94" width="14.50" height="5.40" fill="#ffffb3" />
<rect x="346.85" y="297.94" width="19.18" height="5.40" fill="#bebada" />
<rect x="365.98" y="297.94" width="19.18" height="5.40" fill="#80b1d3" />
<rect x="385.10" y="297.94" width="14.50" height="5.40" fill="#b3de69" />
<rect x="399.55" y="297.94" width="14.50" height="5.40" fill="#fccde5" />
<rect x="21.00" y="306.21" width="25.00" height="7.20" fill="#d0dcd2" rx="3.6" />
<rect x="48.00" y="306.21" width="25.00" height="7.20" fill="#93c88f" rx="3.6" />
<rect x="75.00" y="306.21" width="25.00" height="7.20" fill="#93c88f" rx="3.6" />
<rect x="102.00" y="306.21" width="25.00" height="7.20" fill="#93c88f" rx="3.6" />
<rect x="129.00" y="306.21" width="25.00" height="7.20" fill="#93c88f" rx="3.6" />
<rect x="156.00" y="306.21" width="25.00" height="7.20" fill="#93c88f" rx="3.6" />
<rect x="183.00" y="306.21" width="25.00" height="7.20" fill="#93c88f" rx="3.6" />
<rect x="210.00" y="306.21" width="25.00" height="7.20" fill="#d0dcd2" rx="3.6" />
<text x="255.60" y="312.05" font-size="6.6" fill="#4a4a4a" font-weight="400" text-anchor="end" transform="translate(255.60 309.81) rotate(0.03) scale(1 1.06) translate(-255.60 -309.81)" >94</text>
<rect x="258.00" y="307.11" width="18.60" height="5.40" fill="#d2e1f2" />
<text x="306.40" y="312.05" font-size="6.6" fill="#4a4a4a" font-weight="400" text-anchor="end" transform="translate(306.40 309.81) rotate(0.03) scale(1 1.06) translate(-306.40 -309.81)" >584</text>
<rect x="308.60" y="307.11" width="17.48" height="5.40" fill="#ffffb3" />
<rect x="326.03" y="307.11" width="17.05" height="5.40" fill="#bebada" />
<rect x="343.03" y="307.11" width="17.47" height="5.40" fill="#fb8072" />
<rect x="360.45" y="307.11" width="17.69" height="5.40" fill="#80b1d3" />
<rect x="378.09" y="307.11" width="18.11" height="5.40" fill="#fdb462" />
<rect x="396.15" y="307.11" width="17.90" height="5.40" fill="#b3de69" />
<rect x="21.00" y="315.38" width="25.00" height="7.20" fill="#93c88f" rx="3.6" />
<rect x="48.00" y="315.38" width="25.00" height="7.20" fill="#d0dcd2" rx="3.6" />
<line x1="47.00" y1="318.98" x2="74.00" y2="318.98" stroke="#bccabf" stroke-width="0.6"/>
<rect x="75.00" y="315.38" width="25.00" height="7.20" fill="#93c88f" rx="3.6" />
<rect x="102.00" y="315.38" width="25.00" height="7.20" fill="#93c88f" rx="3.6" />
<rect x="129.00" y="315.38" width="25.00" height="7.20" fill="#93c88f" rx="3.6" />
<rect x="156.00" y="315.38" width="25.00" height="7.20" fill="#d0dcd2" rx="3.6" />
<line x1="155.00" y1="318.98" x2="182.00" y2="318.98" stroke="#bccabf" stroke-width="0.6"/>
<rect x="183.00" y="315.38" width="25.00" height="7.20" fill="#93c88f" rx="3.6" />
<rect x="210.00" y="315.38" width="25.00" height="7.20" fill="#93c88f" rx="3.6" />
<text x="255.60" y="321.22" font-size="6.6" fill="#4a4a4a" font-weight="400" text-anchor="end" transform="translate(255.60 318.98) rotate(0.03) scale(1 1.06) translate(-255.60 -318.98)" >11</text>
<rect x="258.00" y="316.28" width="18.60" height="5.40" fill="#d8e5f5" />
<text x="306.40" y="321.22" font-size="6.6" fill="#4a4a4a" font-weight="400" text-anchor="end" transform="translate(306.40 318.98) rotate(0.03) scale(1 1.06) translate(-306.40 -318.98)" >71</text>
<rect x="308.60" y="316.28" width="17.48" height="5.40" fill="#8dd3c7" />
<rect x="326.03" y="316.28" width="17.69" height="5.40" fill="#bebada" />
<rect x="343.66" y="316.28" width="16.41" height="5.40" fill="#fb8072" />
<rect x="360.03" y="316.28" width="20.24" height="5.40" fill="#80b1d3" />
<rect x="380.21" y="316.28" width="15.99" height="5.40" fill="#b3de69" />
<rect x="396.15" y="316.28" width="17.90" height="5.40" fill="#fccde5" />
<text x="247.00" y="134.92" font-size="5.65" fill="#222" font-weight="400" text-anchor="start" transform="translate(247.00 133.00) rotate(0.03) scale(1 1.06) translate(-247.00 -133.00)" stroke="#222" stroke-width="0.12">Cluster count</text>
<text x="295.00" y="134.90" font-size="5.6" fill="#222" font-weight="400" text-anchor="start" transform="translate(295.00 133.00) rotate(0.03) scale(1 1.06) translate(-295.00 -133.00)" stroke="#222" stroke-width="0.12">Protein count</text>
<text x="34.60" y="138.90" font-size="6.52" fill="#444" transform="translate(34.60 138.90) rotate(-45) scale(1 1.06) translate(-34.60 -138.90)">Streptomyces_cattleya</text>
<text x="61.60" y="138.90" font-size="6.52" fill="#444" transform="translate(61.60 138.90) rotate(-45) scale(1 1.06) translate(-61.60 -138.90)">Streptomyces_sp_Sv_ACTE_SirexAA</text>
<text x="88.60" y="138.90" font-size="6.52" fill="#444" transform="translate(88.60 138.90) rotate(-45) scale(1 1.06) translate(-88.60 -138.90)">Streptomyces_albidoflavus</text>
<text x="115.60" y="138.90" font-size="6.52" fill="#444" transform="translate(115.60 138.90) rotate(-45) scale(1 1.06) translate(-115.60 -138.90)">Streptomyces_fulvissimus</text>
<text x="142.60" y="138.90" font-size="6.52" fill="#444" transform="translate(142.60 138.90) rotate(-45) scale(1 1.06) translate(-142.60 -138.90)">Streptomyces_rapamycinicus</text>
<text x="169.60" y="138.90" font-size="6.52" fill="#444" transform="translate(169.60 138.90) rotate(-45) scale(1 1.06) translate(-169.60 -138.90)">Streptomyces_lividans</text>
<text x="196.60" y="138.90" font-size="6.52" fill="#444" transform="translate(196.60 138.90) rotate(-45) scale(1 1.06) translate(-196.60 -138.90)">Streptomyces_globisporus</text>
<text x="223.60" y="138.90" font-size="6.52" fill="#444" transform="translate(223.60 138.90) rotate(-45) scale(1 1.06) translate(-223.60 -138.90)">Streptomyces_sp_Mg1</text>
<circle cx="22.2" cy="331.6" r="3.2" fill="#8dd3c7"/>
<text x="28.00" y="333.81" font-size="6.5" fill="#4a4a4a" font-weight="400" text-anchor="start" transform="translate(28.00 331.60) rotate(0.03) scale(1 1.06) translate(-28.00 -331.60)" >Streptomyces_cattleya</text>
<circle cx="22.2" cy="339.9" r="3.2" fill="#fb8072"/>
<text x="28.00" y="342.11" font-size="6.5" fill="#4a4a4a" font-weight="400" text-anchor="start" transform="translate(28.00 339.90) rotate(0.03) scale(1 1.06) translate(-28.00 -339.90)" >Streptomyces_fulvissimus</text>
<circle cx="22.2" cy="348.3" r="3.2" fill="#b3de69"/>
<text x="28.00" y="350.51" font-size="6.5" fill="#4a4a4a" font-weight="400" text-anchor="start" transform="translate(28.00 348.30) rotate(0.03) scale(1 1.06) translate(-28.00 -348.30)" >Streptomyces_globisporus</text>
<circle cx="153.5" cy="331.6" r="3.2" fill="#ffffb3"/>
<text x="160.20" y="333.81" font-size="6.5" fill="#4a4a4a" font-weight="400" text-anchor="start" transform="translate(160.20 331.60) rotate(0.03) scale(1 1.06) translate(-160.20 -331.60)" >Streptomyces_sp_Sv_ACTE_SirexAA</text>
<circle cx="153.5" cy="339.9" r="3.2" fill="#80b1d3"/>
<text x="160.20" y="342.11" font-size="6.5" fill="#4a4a4a" font-weight="400" text-anchor="start" transform="translate(160.20 339.90) rotate(0.03) scale(1 1.06) translate(-160.20 -339.90)" >Streptomyces_rapamycinicus</text>
<circle cx="153.5" cy="348.3" r="3.2" fill="#fccde5"/>
<text x="160.20" y="350.51" font-size="6.5" fill="#4a4a4a" font-weight="400" text-anchor="start" transform="translate(160.20 348.30) rotate(0.03) scale(1 1.06) translate(-160.20 -348.30)" >Streptomyces_sp_Mg1</text>
<circle cx="285.5" cy="331.6" r="3.2" fill="#bebada"/>
<text x="290.90" y="333.81" font-size="6.5" fill="#4a4a4a" font-weight="400" text-anchor="start" transform="translate(290.90 331.60) rotate(0.03) scale(1 1.06) translate(-290.90 -331.60)" >Streptomyces_albidoflavus</text>
<circle cx="285.5" cy="339.9" r="3.2" fill="#fdb462"/>
<text x="290.90" y="342.11" font-size="6.5" fill="#4a4a4a" font-weight="400" text-anchor="start" transform="translate(290.90 339.90) rotate(0.03) scale(1 1.06) translate(-290.90 -339.90)" >Streptomyces_lividans</text>
<text x="15.00" y="370.75" font-size="6.03" fill="#e0201c" font-weight="700" text-anchor="start" transform="translate(15.00 368.70) rotate(0.03) scale(1 1.06) translate(-15.00 -368.70)" >Tips:</text>
<text x="31.70" y="370.94" font-size="6.6" fill="#2f7be0" font-weight="400" text-anchor="start" transform="translate(31.70 368.70) rotate(0.03) scale(1 1.06) translate(-31.70 -368.70)" >click cluster number or number in venn diagram to view more information</text>
<text x="7.30" y="388.02" font-size="12.4" fill="#000" font-weight="700" text-anchor="start" transform="translate(7.30 383.80) rotate(0.03) scale(1 1.06) translate(-7.30 -383.80)" >B</text>
<polyline points="80,426.8 90.5,441.4" fill="none" stroke="#dcdfdd" stroke-width="0.5"/>
<polyline points="118.6,427.3 114,434.5" fill="none" stroke="#dcdfdd" stroke-width="0.5"/>
<polyline points="44.5,473.2 73.6,476.8" fill="none" stroke="#dcdfdd" stroke-width="0.5"/>
<polyline points="44.5,482.9 48,484 76,479.8" fill="none" stroke="#dcdfdd" stroke-width="0.5"/>
<polyline points="44.5,491.4 49.4,493.8 74.8,487.1" fill="none" stroke="#dcdfdd" stroke-width="0.5"/>
<polyline points="149,460 130,469" fill="none" stroke="#dcdfdd" stroke-width="0.5"/>
<polyline points="84,515 93,504.7" fill="none" stroke="#dcdfdd" stroke-width="0.5"/>
<polyline points="138.8,516.3 107.3,500.5" fill="none" stroke="#dcdfdd" stroke-width="0.5"/>
<polygon points="15.15,398.22 130.63,465.64 94.17,499.88" fill="rgb(0,102,0)" fill-opacity="0.55"/>
<polygon points="100.42,393.16 75.87,502.85 122.43,484.86" fill="rgb(90,155,212)" fill-opacity="0.55"/>
<polygon points="168.78,416.81 76.52,448.79 101.92,503.05" fill="rgb(241,90,96)" fill-opacity="0.55"/>
<polygon points="242.23,511.22 89.02,446.21 76.17,492.45" fill="rgb(245,205,55)" fill-opacity="0.55"/>
<polygon points="128.54,581.44 75.70,461.39 107.30,423.41" fill="rgb(255,117,0)" fill-opacity="0.55"/>
<polygon points="20.27,532.54 134.51,430.06 112.42,493.11" fill="rgb(192,152,83)" fill-opacity="0.55"/>
<text x="76.80" y="425.87" font-size="5.5" fill="#000" font-weight="700" text-anchor="middle" transform="translate(76.80 424.00) rotate(0.03) scale(1 1.06) translate(-76.80 -424.00)" stroke="#000" stroke-width="0.18">67</text>
<text x="102.80" y="421.87" font-size="5.5" fill="#000" font-weight="700" text-anchor="middle" transform="translate(102.80 420.00) rotate(0.03) scale(1 1.06) translate(-102.80 -420.00)" stroke="#000" stroke-width="0.18">134</text>
<text x="121.70" y="425.87" font-size="5.5" fill="#000" font-weight="700" text-anchor="middle" transform="translate(121.70 424.00) rotate(0.03) scale(1 1.06) translate(-121.70 -424.00)" stroke="#000" stroke-width="0.18">71</text>
<text x="61.80" y="439.67" font-size="5.5" fill="#000" font-weight="700" text-anchor="middle" transform="translate(61.80 437.80) rotate(0.03) scale(1 1.06) translate(-61.80 -437.80)" stroke="#000" stroke-width="0.18">218</text>
<text x="105.20" y="435.67" font-size="5.5" fill="#000" font-weight="700" text-anchor="middle" transform="translate(105.20 433.80) rotate(0.03) scale(1 1.06) translate(-105.20 -433.80)" stroke="#000" stroke-width="0.18">95</text>
<text x="145.00" y="435.17" font-size="5.5" fill="#000" font-weight="700" text-anchor="middle" transform="translate(145.00 433.30) rotate(0.03) scale(1 1.06) translate(-145.00 -433.30)" stroke="#000" stroke-width="0.18">106</text>
<text x="81.50" y="451.47" font-size="5.5" fill="#000" font-weight="700" text-anchor="middle" transform="translate(81.50 449.60) rotate(0.03) scale(1 1.06) translate(-81.50 -449.60)" stroke="#000" stroke-width="0.18">55</text>
<text x="123.70" y="450.27" font-size="5.5" fill="#000" font-weight="700" text-anchor="middle" transform="translate(123.70 448.40) rotate(0.03) scale(1 1.06) translate(-123.70 -448.40)" stroke="#000" stroke-width="0.18">104</text>
<text x="155.30" y="458.97" font-size="5.5" fill="#000" font-weight="700" text-anchor="middle" transform="translate(155.30 457.10) rotate(0.03) scale(1 1.06) translate(-155.30 -457.10)" stroke="#000" stroke-width="0.18">141</text>
<text x="80.40" y="464.87" font-size="5.5" fill="#000" font-weight="700" text-anchor="middle" transform="translate(80.40 463.00) rotate(0.03) scale(1 1.06) translate(-80.40 -463.00)" stroke="#000" stroke-width="0.18">?</text>
<text x="42.30" y="470.37" font-size="5.5" fill="#000" font-weight="700" text-anchor="middle" transform="translate(42.30 468.50) rotate(0.03) scale(1 1.06) translate(-42.30 -468.50)" stroke="#000" stroke-width="0.18">109</text>
<text x="42.30" y="479.47" font-size="5.5" fill="#000" font-weight="700" text-anchor="middle" transform="translate(42.30 477.60) rotate(0.03) scale(1 1.06) translate(-42.30 -477.60)" stroke="#000" stroke-width="0.18">131</text>
<text x="41.70" y="489.27" font-size="5.5" fill="#000" font-weight="700" text-anchor="middle" transform="translate(41.70 487.40) rotate(0.03) scale(1 1.06) translate(-41.70 -487.40)" stroke="#000" stroke-width="0.18">117</text>
<text x="102.40" y="476.37" font-size="5.5" fill="#000" font-weight="700" text-anchor="middle" transform="translate(102.40 474.50) rotate(0.03) scale(1 1.06) translate(-102.40 -474.50)" stroke="#000" stroke-width="0.18">2656</text>
<text x="119.50" y="484.87" font-size="5.5" fill="#000" font-weight="700" text-anchor="middle" transform="translate(119.50 483.00) rotate(0.03) scale(1 1.06) translate(-119.50 -483.00)" stroke="#000" stroke-width="0.18">?</text>
<text x="115.50" y="494.57" font-size="5.5" fill="#000" font-weight="700" text-anchor="middle" transform="translate(115.50 492.70) rotate(0.03) scale(1 1.06) translate(-115.50 -492.70)" stroke="#000" stroke-width="0.18">?</text>
<text x="163.40" y="492.17" font-size="5.5" fill="#000" font-weight="700" text-anchor="middle" transform="translate(163.40 490.30) rotate(0.03) scale(1 1.06) translate(-163.40 -490.30)" stroke="#000" stroke-width="0.18">379</text>
<text x="83.00" y="498.07" font-size="5.5" fill="#000" font-weight="700" text-anchor="middle" transform="translate(83.00 496.20) rotate(0.03) scale(1 1.06) translate(-83.00 -496.20)" stroke="#000" stroke-width="0.18">79</text>
<text x="62.80" y="508.27" font-size="5.5" fill="#000" font-weight="700" text-anchor="middle" transform="translate(62.80 506.40) rotate(0.03) scale(1 1.06) translate(-62.80 -506.40)" stroke="#000" stroke-width="0.18">183</text>
<text x="83.60" y="521.07" font-size="5.5" fill="#000" font-weight="700" text-anchor="middle" transform="translate(83.60 519.20) rotate(0.03) scale(1 1.06) translate(-83.60 -519.20)" stroke="#000" stroke-width="0.18">335</text>
<text x="114.20" y="523.07" font-size="5.5" fill="#000" font-weight="700" text-anchor="middle" transform="translate(114.20 521.20) rotate(0.03) scale(1 1.06) translate(-114.20 -521.20)" stroke="#000" stroke-width="0.18">424</text>
<text x="142.70" y="521.07" font-size="5.5" fill="#000" font-weight="700" text-anchor="middle" transform="translate(142.70 519.20) rotate(0.03) scale(1 1.06) translate(-142.70 -519.20)" stroke="#000" stroke-width="0.18">110</text>
<text x="31.00" y="406.18" font-size="6.4" fill="rgb(0,102,0)" font-weight="400" text-anchor="start" transform="translate(31.00 404.00) rotate(0.03) scale(1 1.06) translate(-31.00 -404.00)" fill-opacity="0.5">Streptomyces_cattleya</text>
<text x="106.40" y="401.78" font-size="6.4" fill="rgb(90,155,212)" font-weight="400" text-anchor="start" transform="translate(106.40 399.60) rotate(0.03) scale(1 1.06) translate(-106.40 -399.60)" fill-opacity="0.5">Streptomyces_sp_Sv_ACTE_SirexAA</text>
<text x="167.80" y="426.48" font-size="6.4" fill="rgb(241,90,96)" font-weight="400" text-anchor="start" transform="translate(167.80 424.30) rotate(0.03) scale(1 1.06) translate(-167.80 -424.30)" fill-opacity="0.5">Streptomyces_albidoflavus</text>
<text x="171.20" y="481.98" font-size="6.4" fill="rgb(245,205,55)" font-weight="400" text-anchor="start" transform="translate(171.20 479.80) rotate(0.03) scale(1 1.06) translate(-171.20 -479.80)" fill-opacity="0.38">Streptomyces_fulvissimus</text>
<text x="130.70" y="575.98" font-size="6.4" fill="rgb(255,117,0)" font-weight="400" text-anchor="start" transform="translate(130.70 573.80) rotate(0.03) scale(1 1.06) translate(-130.70 -573.80)" fill-opacity="0.5">Streptomyces_rapamycinicus</text>
<text x="28.40" y="537.38" font-size="6.4" fill="rgb(192,152,83)" font-weight="400" text-anchor="start" transform="translate(28.40 535.20) rotate(0.03) scale(1 1.06) translate(-28.40 -535.20)" fill-opacity="0.5">Streptomyces_lividans</text>
<rect x="234.10" y="404.85" width="7.90" height="1.30" fill="#444" />
<rect x="234.10" y="407.25" width="7.90" height="1.30" fill="#444" />
<rect x="234.10" y="409.65" width="7.90" height="1.30" fill="#444" />
<rect x="213.60" y="544.10" width="15.30" height="40.00" fill="#f5faf6" stroke="#d8d8d8" stroke-width="0.5" rx="1.2" />
<rect x="215.50" y="546.20" width="5.90" height="4.60" fill="#fff" stroke="#bdbdbd" stroke-width="0.45" />
<text x="218.45" y="549.69" font-size="3.5" fill="#555" font-weight="400" text-anchor="middle" transform="translate(218.45 548.50) rotate(0.03) scale(1 1.06) translate(-218.45 -548.50)" >off</text>
<rect x="222.30" y="546.00" width="5.00" height="5.00" fill="#78af78" />
<rect x="215.50" y="552.60" width="5.90" height="4.60" fill="#fff" stroke="#bdbdbd" stroke-width="0.45" />
<text x="218.45" y="556.09" font-size="3.5" fill="#555" font-weight="400" text-anchor="middle" transform="translate(218.45 554.90) rotate(0.03) scale(1 1.06) translate(-218.45 -554.90)" >off</text>
<rect x="222.30" y="552.40" width="5.00" height="5.00" fill="#a5c8e6" />
<rect x="215.50" y="559.00" width="5.90" height="4.60" fill="#fff" stroke="#bdbdbd" stroke-width="0.45" />
<text x="218.45" y="562.49" font-size="3.5" fill="#555" font-weight="400" text-anchor="middle" transform="translate(218.45 561.30) rotate(0.03) scale(1 1.06) translate(-218.45 -561.30)" >off</text>
<rect x="222.30" y="558.80" width="5.00" height="5.00" fill="#f09696" />
<rect x="215.50" y="565.40" width="5.90" height="4.60" fill="#fff" stroke="#bdbdbd" stroke-width="0.45" />
<text x="218.45" y="568.89" font-size="3.5" fill="#555" font-weight="400" text-anchor="middle" transform="translate(218.45 567.70) rotate(0.03) scale(1 1.06) translate(-218.45 -567.70)" >off</text>
<rect x="222.30" y="565.20" width="5.00" height="5.00" fill="#f0eb8c" />
<rect x="215.50" y="571.80" width="5.90" height="4.60" fill="#fff" stroke="#bdbdbd" stroke-width="0.45" />
<text x="218.45" y="575.29" font-size="3.5" fill="#555" font-weight="400" text-anchor="middle" transform="translate(218.45 574.10) rotate(0.03) scale(1 1.06) translate(-218.45 -574.10)" >off</text>
<rect x="222.30" y="571.60" width="5.00" height="5.00" fill="#faaa64" />
<rect x="215.50" y="578.20" width="5.90" height="4.60" fill="#fff" stroke="#bdbdbd" stroke-width="0.45" />
<text x="218.45" y="581.69" font-size="3.5" fill="#555" font-weight="400" text-anchor="middle" transform="translate(218.45 580.50) rotate(0.03) scale(1 1.06) translate(-218.45 -580.50)" >off</text>
<rect x="222.30" y="578.00" width="5.00" height="5.00" fill="#d2c8a0" />
<rect x="45.05" y="389.65" width="32.00" height="10.60" fill="#fff" stroke="#cfcfcf" stroke-width="0.5" rx="1.5" />
<rect x="16.70" y="388.90" width="28.90" height="12.10" fill="none" stroke="#1890ff" stroke-width="1.0" rx="2" stroke-opacity="0.18"/>
<rect x="17.47" y="389.67" width="27.35" height="10.55" fill="#fff" stroke="#5aa8f8" stroke-width="0.55" rx="1.5" />
<text x="31.20" y="397.18" font-size="6.4" fill="#2f8af0" font-weight="400" text-anchor="middle" transform="translate(31.20 395.00) rotate(0.03) scale(1 1.06) translate(-31.20 -395.00)" >Classic</text>
<text x="61.10" y="397.18" font-size="6.4" fill="#484848" font-weight="400" text-anchor="middle" transform="translate(61.10 395.00) rotate(0.03) scale(1 1.06) translate(-61.10 -395.00)" >Edwards</text>
<text x="248.40" y="403.21" font-size="6.5" fill="#444" font-weight="700" text-anchor="start" transform="translate(248.40 401.00) rotate(0.03) scale(1 1.06) translate(-248.40 -401.00)" >All Species:</text>
<rect x="248.10" y="412.95" width="7.70" height="7.30" fill="#1890ff" rx="1.1" />
<path d="M250.0 416.70 l1.5 1.55 l2.7 -3.1" fill="none" stroke="#fff" stroke-width="0.95"/>
<text x="259.30" y="418.84" font-size="6.58" fill="#0f6e0f" font-weight="400" text-anchor="start" transform="translate(259.30 416.60) rotate(0.03) scale(1 1.06) translate(-259.30 -416.60)" >Streptomyces_cattleya</text>
<rect x="248.10" y="427.12" width="7.70" height="7.30" fill="#1890ff" rx="1.1" />
<path d="M250.0 430.87 l1.5 1.55 l2.7 -3.1" fill="none" stroke="#fff" stroke-width="0.95"/>
<text x="259.30" y="433.01" font-size="6.58" fill="#5a9bd4" font-weight="400" text-anchor="start" transform="translate(259.30 430.77) rotate(0.03) scale(1 1.06) translate(-259.30 -430.77)" >Streptomyces_sp_Sv_ACTE_SirexAA</text>
<rect x="248.10" y="441.29" width="7.70" height="7.30" fill="#1890ff" rx="1.1" />
<path d="M250.0 445.04 l1.5 1.55 l2.7 -3.1" fill="none" stroke="#fff" stroke-width="0.95"/>
<text x="259.30" y="447.18" font-size="6.58" fill="#f15a60" font-weight="400" text-anchor="start" transform="translate(259.30 444.94) rotate(0.03) scale(1 1.06) translate(-259.30 -444.94)" >Streptomyces_albidoflavus</text>
<rect x="248.10" y="455.46" width="7.70" height="7.30" fill="#1890ff" rx="1.1" />
<path d="M250.0 459.21 l1.5 1.55 l2.7 -3.1" fill="none" stroke="#fff" stroke-width="0.95"/>
<text x="259.30" y="461.35" font-size="6.58" fill="#edd550" font-weight="400" text-anchor="start" transform="translate(259.30 459.11) rotate(0.03) scale(1 1.06) translate(-259.30 -459.11)" >Streptomyces_fulvissimus</text>
<rect x="248.10" y="469.63" width="7.70" height="7.30" fill="#1890ff" rx="1.1" />
<path d="M250.0 473.38 l1.5 1.55 l2.7 -3.1" fill="none" stroke="#fff" stroke-width="0.95"/>
<text x="259.30" y="475.52" font-size="6.58" fill="#ff7500" font-weight="400" text-anchor="start" transform="translate(259.30 473.28) rotate(0.03) scale(1 1.06) translate(-259.30 -473.28)" >Streptomyces_rapamycinicus</text>
<rect x="248.10" y="483.80" width="7.70" height="7.30" fill="#1890ff" rx="1.1" />
<path d="M250.0 487.55 l1.5 1.55 l2.7 -3.1" fill="none" stroke="#fff" stroke-width="0.95"/>
<text x="259.30" y="489.69" font-size="6.58" fill="#b59a62" font-weight="400" text-anchor="start" transform="translate(259.30 487.45) rotate(0.03) scale(1 1.06) translate(-259.30 -487.45)" >Streptomyces_lividans</text>
<rect x="248.40" y="498.22" width="7.10" height="6.80" fill="#fff" stroke="#cfcfcf" stroke-width="0.5" rx="1" />
<text x="259.30" y="503.86" font-size="6.58" fill="#0f6e0f" font-weight="400" text-anchor="start" transform="translate(259.30 501.62) rotate(0.03) scale(1 1.06) translate(-259.30 -501.62)" >Streptomyces_globisporus</text>
<rect x="248.40" y="512.39" width="7.10" height="6.80" fill="#fff" stroke="#cfcfcf" stroke-width="0.5" rx="1" />
<text x="259.30" y="518.03" font-size="6.58" fill="#5a9bd4" font-weight="400" text-anchor="start" transform="translate(259.30 515.79) rotate(0.03) scale(1 1.06) translate(-259.30 -515.79)" >Streptomyces_sp_Mg1</text>
<rect x="248.50" y="530.00" width="72.60" height="15.00" fill="#1890ff" rx="2" />
<text x="284.80" y="539.81" font-size="6.5" fill="#fff" font-weight="400" text-anchor="middle" transform="translate(284.80 537.60) rotate(0.03) scale(1 1.06) translate(-284.80 -537.60)" >Show Venn diagram</text>
<text x="129.00" y="595.24" font-size="6.0" fill="#222" font-weight="400" text-anchor="middle" transform="translate(129.00 593.20) rotate(0.03) scale(1 1.06) translate(-129.00 -593.20)" stroke="#222" stroke-width="0.15">Size of each list</text>
<path d="M37.6 637.7 L37.6 598" stroke="#333" stroke-width="0.6" fill="none"/>
<path d="M37.6 594.6 l-1.5 4 l3 0 z" fill="#333"/>
<path d="M37.6 637.7 L222 637.7" stroke="#333" stroke-width="0.6" fill="none"/>
<path d="M225.3 637.7 l-4 -1.5 l0 3 z" fill="#333"/>
<text x="34.00" y="607.18" font-size="4.65" fill="#222" font-weight="400" text-anchor="end" transform="translate(34.00 605.60) rotate(0.03) scale(1 1.06) translate(-34.00 -605.60)" >6228</text>
<line x1="36.30" y1="605.80" x2="37.60" y2="605.80" stroke="#333" stroke-width="0.5"/>
<text x="34.00" y="623.08" font-size="4.65" fill="#222" font-weight="400" text-anchor="end" transform="translate(34.00 621.50) rotate(0.03) scale(1 1.06) translate(-34.00 -621.50)" >3114</text>
<line x1="36.30" y1="621.70" x2="37.60" y2="621.70" stroke="#333" stroke-width="0.5"/>
<text x="34.00" y="638.98" font-size="4.65" fill="#222" font-weight="400" text-anchor="end" transform="translate(34.00 637.40) rotate(0.03) scale(1 1.06) translate(-34.00 -637.40)" >0</text>
<line x1="36.30" y1="637.60" x2="37.60" y2="637.60" stroke="#333" stroke-width="0.5"/>
<rect x="46.00" y="611.33" width="19.90" height="26.37" fill="#7ab27a" stroke="#5d9a5d" stroke-width="0.4" />
<text x="56.00" y="618.30" font-size="4.6" fill="#fff" font-weight="400" text-anchor="middle" transform="translate(56.00 616.73) rotate(0.03) scale(1 1.06) translate(-56.00 -616.73)" fill-opacity="0.6">5164</text>
<line x1="56.00" y1="637.70" x2="56.00" y2="639.10" stroke="#333" stroke-width="0.5"/>
<text x="56.00" y="645.01" font-size="4.75" fill="#111" font-weight="400" text-anchor="middle" transform="translate(56.00 643.40) rotate(0.03) scale(1 1.06) translate(-56.00 -643.40)" stroke="#111" stroke-width="0.08">Streptomyces_cattleya</text>
<rect x="74.10" y="609.15" width="19.90" height="28.55" fill="#a9cdea" stroke="#8db9dd" stroke-width="0.4" />
<text x="84.10" y="616.12" font-size="4.6" fill="#fff" font-weight="400" text-anchor="middle" transform="translate(84.10 614.55) rotate(0.03) scale(1 1.06) translate(-84.10 -614.55)" fill-opacity="0.6">5591</text>
<line x1="84.10" y1="637.70" x2="84.10" y2="639.10" stroke="#333" stroke-width="0.5"/>
<text x="84.10" y="649.82" font-size="4.75" fill="#111" font-weight="400" text-anchor="middle" transform="translate(84.10 648.20) rotate(0.03) scale(1 1.06) translate(-84.10 -648.20)" stroke="#111" stroke-width="0.08">Streptomyces_sp_Sv_ACTE_SirexAA</text>
<rect x="102.60" y="612.25" width="19.90" height="25.45" fill="#f4a3a8" stroke="#e98a90" stroke-width="0.4" />
<text x="112.60" y="619.22" font-size="4.6" fill="#fff" font-weight="400" text-anchor="middle" transform="translate(112.60 617.65) rotate(0.03) scale(1 1.06) translate(-112.60 -617.65)" fill-opacity="0.6">4984</text>
<line x1="112.60" y1="637.70" x2="112.60" y2="639.10" stroke="#333" stroke-width="0.5"/>
<text x="112.60" y="645.01" font-size="4.75" fill="#111" font-weight="400" text-anchor="middle" transform="translate(112.60 643.40) rotate(0.03) scale(1 1.06) translate(-112.60 -643.40)" stroke="#111" stroke-width="0.08">Streptomyces_albidoflavus</text>
<rect x="131.20" y="606.64" width="19.90" height="31.06" fill="#f6e59c" stroke="#ead481" stroke-width="0.4" />
<text x="141.20" y="613.60" font-size="4.6" fill="#fff" font-weight="400" text-anchor="middle" transform="translate(141.20 612.04) rotate(0.03) scale(1 1.06) translate(-141.20 -612.04)" fill-opacity="0.6">6084</text>
<line x1="141.20" y1="637.70" x2="141.20" y2="639.10" stroke="#333" stroke-width="0.5"/>
<text x="141.20" y="649.82" font-size="4.75" fill="#111" font-weight="400" text-anchor="middle" transform="translate(141.20 648.20) rotate(0.03) scale(1 1.06) translate(-141.20 -648.20)" stroke="#111" stroke-width="0.08">Streptomyces_fulvissimus</text>
<rect x="159.10" y="605.90" width="19.90" height="31.80" fill="#fbb878" stroke="#f3a25c" stroke-width="0.4" />
<text x="169.10" y="612.86" font-size="4.6" fill="#fff" font-weight="400" text-anchor="middle" transform="translate(169.10 611.30) rotate(0.03) scale(1 1.06) translate(-169.10 -611.30)" fill-opacity="0.6">6228</text>
<line x1="169.10" y1="637.70" x2="169.10" y2="639.10" stroke="#333" stroke-width="0.5"/>
<text x="169.10" y="645.01" font-size="4.75" fill="#111" font-weight="400" text-anchor="middle" transform="translate(169.10 643.40) rotate(0.03) scale(1 1.06) translate(-169.10 -643.40)" stroke="#111" stroke-width="0.08">Streptomyces_rapamycinicus</text>
<rect x="187.20" y="607.07" width="19.90" height="30.63" fill="#dcc9a4" stroke="#cdb78c" stroke-width="0.4" />
<text x="197.20" y="614.03" font-size="4.6" fill="#fff" font-weight="400" text-anchor="middle" transform="translate(197.20 612.47) rotate(0.03) scale(1 1.06) translate(-197.20 -612.47)" fill-opacity="0.6">5999</text>
<line x1="197.20" y1="637.70" x2="197.20" y2="639.10" stroke="#333" stroke-width="0.5"/>
<text x="197.20" y="649.82" font-size="4.75" fill="#111" font-weight="400" text-anchor="middle" transform="translate(197.20 648.20) rotate(0.03) scale(1 1.06) translate(-197.20 -648.20)" stroke="#111" stroke-width="0.08">Streptomyces_lividans</text>
<text x="129.40" y="661.08" font-size="6.12" fill="#222" font-weight="400" text-anchor="middle" transform="translate(129.40 659.00) rotate(0.03) scale(1 1.06) translate(-129.40 -659.00)" stroke="#222" stroke-width="0.12">Number of elements: specific (1) or shared by 2, 3, ... lists</text>
<rect x="41.80" y="667.80" width="49.50" height="9.00" fill="#e2dde5" stroke="#bfb7c4" stroke-width="0.5" rx="0.8" />
<text x="66.55" y="673.90" font-size="4.4" fill="#fff" font-weight="400" text-anchor="middle" transform="translate(66.55 672.40) rotate(0.03) scale(1 1.06) translate(-66.55 -672.40)" fill-opacity="0.75">2656</text>
<text x="66.70" y="686.70" font-size="5.0" fill="#222" font-weight="400" text-anchor="middle" transform="translate(66.70 685.00) rotate(0.03) scale(1 1.06) translate(-66.70 -685.00)" >6</text>
<line x1="66.70" y1="679.50" x2="66.70" y2="680.80" stroke="#555" stroke-width="0.5"/>
<rect x="92.70" y="667.80" width="15.50" height="9.00" fill="#e2dbe5" stroke="#bfb7c4" stroke-width="0.5" rx="0.8" />
<text x="100.45" y="673.90" font-size="4.4" fill="#fff" font-weight="400" text-anchor="middle" transform="translate(100.45 672.40) rotate(0.03) scale(1 1.06) translate(-100.45 -672.40)" fill-opacity="0.75">900</text>
<text x="100.40" y="686.70" font-size="5.0" fill="#222" font-weight="400" text-anchor="middle" transform="translate(100.40 685.00) rotate(0.03) scale(1 1.06) translate(-100.40 -685.00)" >5</text>
<line x1="100.40" y1="679.50" x2="100.40" y2="680.80" stroke="#555" stroke-width="0.5"/>
<rect x="109.60" y="667.80" width="16.80" height="9.00" fill="#e1d7e4" stroke="#bfb7c4" stroke-width="0.5" rx="0.8" />
<text x="118.00" y="673.90" font-size="4.4" fill="#fff" font-weight="400" text-anchor="middle" transform="translate(118.00 672.40) rotate(0.03) scale(1 1.06) translate(-118.00 -672.40)" fill-opacity="0.75">969</text>
<text x="118.20" y="686.70" font-size="5.0" fill="#222" font-weight="400" text-anchor="middle" transform="translate(118.20 685.00) rotate(0.03) scale(1 1.06) translate(-118.20 -685.00)" >4</text>
<line x1="118.20" y1="679.50" x2="118.20" y2="680.80" stroke="#555" stroke-width="0.5"/>
<rect x="127.70" y="667.80" width="24.60" height="9.00" fill="#dbcee0" stroke="#bfb7c4" stroke-width="0.5" rx="0.8" />
<text x="140.00" y="673.90" font-size="4.4" fill="#fff" font-weight="400" text-anchor="middle" transform="translate(140.00 672.40) rotate(0.03) scale(1 1.06) translate(-140.00 -672.40)" fill-opacity="0.75">1323</text>
<text x="139.60" y="686.70" font-size="5.0" fill="#222" font-weight="400" text-anchor="middle" transform="translate(139.60 685.00) rotate(0.03) scale(1 1.06) translate(-139.60 -685.00)" >3</text>
<line x1="139.60" y1="679.50" x2="139.60" y2="680.80" stroke="#555" stroke-width="0.5"/>
<rect x="152.90" y="667.80" width="40.40" height="9.00" fill="#d4c1dc" stroke="#bfb7c4" stroke-width="0.5" rx="0.8" />
<text x="173.10" y="673.90" font-size="4.4" fill="#fff" font-weight="400" text-anchor="middle" transform="translate(173.10 672.40) rotate(0.03) scale(1 1.06) translate(-173.10 -672.40)" fill-opacity="0.75">2168</text>
<text x="172.70" y="686.70" font-size="5.0" fill="#222" font-weight="400" text-anchor="middle" transform="translate(172.70 685.00) rotate(0.03) scale(1 1.06) translate(-172.70 -685.00)" >2</text>
<line x1="172.70" y1="679.50" x2="172.70" y2="680.80" stroke="#555" stroke-width="0.5"/>
<rect x="193.90" y="667.80" width="26.60" height="9.00" fill="#b68dbf" stroke="#bfb7c4" stroke-width="0.5" rx="0.8" />
<text x="207.20" y="673.90" font-size="4.4" fill="#fff" font-weight="400" text-anchor="middle" transform="translate(207.20 672.40) rotate(0.03) scale(1 1.06) translate(-207.20 -672.40)" fill-opacity="0.75">1464</text>
<text x="207.30" y="686.70" font-size="5.0" fill="#222" font-weight="400" text-anchor="middle" transform="translate(207.30 685.00) rotate(0.03) scale(1 1.06) translate(-207.30 -685.00)" >1</text>
<line x1="207.30" y1="679.50" x2="207.30" y2="680.80" stroke="#555" stroke-width="0.5"/>
<line x1="37.60" y1="679.50" x2="225.00" y2="679.50" stroke="#777" stroke-width="0.6"/>
<rect x="441.65" y="4.65" width="45.50" height="13.40" fill="#fff" stroke="#cfcfcf" stroke-width="0.5" rx="1.5" />
<rect x="488.85" y="4.65" width="133.90" height="13.40" fill="#fff" stroke="#cfcfcf" stroke-width="0.5" rx="1.5" />
<path d="M621.3 4.3 H653.3 Q655.3 4.3 655.3 6.3 V16.3 Q655.3 18.3 653.3 18.3 H621.3 Z" fill="#1890ff"/>
<text x="446.90" y="13.51" font-size="6.2" fill="#595959" font-weight="400" text-anchor="start" transform="translate(446.90 11.40) rotate(0.03) scale(1 1.06) translate(-446.90 -11.40)" >Cluster Id</text>
<text x="492.90" y="13.54" font-size="6.28" fill="#c4c4c4" font-weight="400" text-anchor="start" transform="translate(492.90 11.40) rotate(0.03) scale(1 1.06) translate(-492.90 -11.40)" >cluster id or keyword</text>
<text x="638.20" y="13.54" font-size="6.3" fill="#fff" font-weight="400" text-anchor="middle" transform="translate(638.20 11.40) rotate(0.03) scale(1 1.06) translate(-638.20 -11.40)" >Search</text>
<path d="M477.9 10.7 l1.8 2 l1.8 -2" fill="none" stroke="#c4c4c4" stroke-width="0.55"/>
<rect x="441.65" y="28.55" width="213.30" height="189.60" fill="#fff" stroke="#e2e2e2" stroke-width="0.5" rx="1" />
<rect x="441.90" y="186.70" width="213.00" height="31.40" fill="#f7f7f7" />
<line x1="441.60" y1="186.70" x2="655.00" y2="186.70" stroke="#e2e2e2" stroke-width="0.5"/>
<line x1="441.60" y1="44.40" x2="655.00" y2="44.40" stroke="#e2e2e2" stroke-width="0.5"/>
<text x="454.20" y="38.47" font-size="6.1" fill="#5a5a5a" font-weight="700" text-anchor="start" transform="translate(454.20 36.40) rotate(0.03) scale(1 1.06) translate(-454.20 -36.40)" >Summary</text>
<text x="448.80" y="54.34" font-size="6.0" fill="#333" font-weight="700" text-anchor="start" transform="translate(448.80 52.30) rotate(0.03) scale(1 1.06) translate(-448.80 -52.30)" >Species</text>
<text x="559.30" y="54.34" font-size="6.0" fill="#333" font-weight="700" text-anchor="start" transform="translate(559.30 52.30) rotate(0.03) scale(1 1.06) translate(-559.30 -52.30)" >Proteins</text>
<text x="590.00" y="54.34" font-size="6.0" fill="#333" font-weight="700" text-anchor="start" transform="translate(590.00 52.30) rotate(0.03) scale(1 1.06) translate(-590.00 -52.30)" >Clusters</text>
<text x="621.30" y="54.34" font-size="6.0" fill="#333" font-weight="700" text-anchor="start" transform="translate(621.30 52.30) rotate(0.03) scale(1 1.06) translate(-621.30 -52.30)" >Singletons</text>
<line x1="445.60" y1="60.20" x2="655.00" y2="60.20" stroke="#e4e4e4" stroke-width="0.5"/>
<text x="448.80" y="70.23" font-size="6.26" fill="#595959" font-weight="400" text-anchor="start" transform="translate(448.80 68.10) rotate(0.03) scale(1 1.06) translate(-448.80 -68.10)" >Streptomyces_cattleya</text>
<text x="559.30" y="70.23" font-size="6.26" fill="#595959" font-weight="400" text-anchor="start" transform="translate(559.30 68.10) rotate(0.03) scale(1 1.06) translate(-559.30 -68.10)" >7475</text>
<text x="590.00" y="70.23" font-size="6.26" fill="#595959" font-weight="400" text-anchor="start" transform="translate(590.00 68.10) rotate(0.03) scale(1 1.06) translate(-590.00 -68.10)" >5174</text>
<text x="621.30" y="70.23" font-size="6.26" fill="#1890ff" font-weight="400" text-anchor="start" transform="translate(621.30 68.10) rotate(0.03) scale(1 1.06) translate(-621.30 -68.10)" >1953</text>
<line x1="445.60" y1="76.00" x2="655.00" y2="76.00" stroke="#e4e4e4" stroke-width="0.5"/>
<text x="448.80" y="86.03" font-size="6.26" fill="#595959" font-weight="400" text-anchor="start" transform="translate(448.80 83.90) rotate(0.03) scale(1 1.06) translate(-448.80 -83.90)" >Streptomyces_sp_Sv_ACTE_SirexAA</text>
<text x="559.30" y="86.03" font-size="6.26" fill="#595959" font-weight="400" text-anchor="start" transform="translate(559.30 83.90) rotate(0.03) scale(1 1.06) translate(-559.30 -83.90)" >6357</text>
<text x="590.00" y="86.03" font-size="6.26" fill="#595959" font-weight="400" text-anchor="start" transform="translate(590.00 83.90) rotate(0.03) scale(1 1.06) translate(-590.00 -83.90)" >5591</text>
<text x="621.30" y="86.03" font-size="6.26" fill="#1890ff" font-weight="400" text-anchor="start" transform="translate(621.30 83.90) rotate(0.03) scale(1 1.06) translate(-621.30 -83.90)" >611</text>
<line x1="445.60" y1="91.80" x2="655.00" y2="91.80" stroke="#e4e4e4" stroke-width="0.5"/>
<text x="448.80" y="101.83" font-size="6.26" fill="#595959" font-weight="400" text-anchor="start" transform="translate(448.80 99.70) rotate(0.03) scale(1 1.06) translate(-448.80 -99.70)" >Streptomyces_albidoflavus</text>
<text x="559.30" y="101.83" font-size="6.26" fill="#595959" font-weight="400" text-anchor="start" transform="translate(559.30 99.70) rotate(0.03) scale(1 1.06) translate(-559.30 -99.70)" >5832</text>
<text x="590.00" y="101.83" font-size="6.26" fill="#595959" font-weight="400" text-anchor="start" transform="translate(590.00 99.70) rotate(0.03) scale(1 1.06) translate(-590.00 -99.70)" >4984</text>
<text x="621.30" y="101.83" font-size="6.26" fill="#1890ff" font-weight="400" text-anchor="start" transform="translate(621.30 99.70) rotate(0.03) scale(1 1.06) translate(-621.30 -99.70)" >663</text>
<line x1="445.60" y1="107.60" x2="655.00" y2="107.60" stroke="#e4e4e4" stroke-width="0.5"/>
<text x="448.80" y="117.63" font-size="6.26" fill="#595959" font-weight="400" text-anchor="start" transform="translate(448.80 115.50) rotate(0.03) scale(1 1.06) translate(-448.80 -115.50)" >Streptomyces_fulvissimus</text>
<text x="559.30" y="117.63" font-size="6.26" fill="#595959" font-weight="400" text-anchor="start" transform="translate(559.30 115.50) rotate(0.03) scale(1 1.06) translate(-559.30 -115.50)" >6925</text>
<text x="590.00" y="117.63" font-size="6.26" fill="#595959" font-weight="400" text-anchor="start" transform="translate(590.00 115.50) rotate(0.03) scale(1 1.06) translate(-590.00 -115.50)" >6084</text>
<text x="621.30" y="117.63" font-size="6.26" fill="#1890ff" font-weight="400" text-anchor="start" transform="translate(621.30 115.50) rotate(0.03) scale(1 1.06) translate(-621.30 -115.50)" >657</text>
<line x1="445.60" y1="123.40" x2="655.00" y2="123.40" stroke="#e4e4e4" stroke-width="0.5"/>
<text x="448.80" y="133.43" font-size="6.26" fill="#595959" font-weight="400" text-anchor="start" transform="translate(448.80 131.30) rotate(0.03) scale(1 1.06) translate(-448.80 -131.30)" >Streptomyces_rapamycinicus</text>
<text x="559.30" y="133.43" font-size="6.26" fill="#595959" font-weight="400" text-anchor="start" transform="translate(559.30 131.30) rotate(0.03) scale(1 1.06) translate(-559.30 -131.30)" >10002</text>
<text x="590.00" y="133.43" font-size="6.26" fill="#595959" font-weight="400" text-anchor="start" transform="translate(590.00 131.30) rotate(0.03) scale(1 1.06) translate(-590.00 -131.30)" >6228</text>
<text x="621.30" y="133.43" font-size="6.26" fill="#1890ff" font-weight="400" text-anchor="start" transform="translate(621.30 131.30) rotate(0.03) scale(1 1.06) translate(-621.30 -131.30)" >2974</text>
<line x1="445.60" y1="139.20" x2="655.00" y2="139.20" stroke="#e4e4e4" stroke-width="0.5"/>
<text x="448.80" y="149.23" font-size="6.26" fill="#595959" font-weight="400" text-anchor="start" transform="translate(448.80 147.10) rotate(0.03) scale(1 1.06) translate(-448.80 -147.10)" >Streptomyces_lividans</text>
<text x="559.30" y="149.23" font-size="6.26" fill="#595959" font-weight="400" text-anchor="start" transform="translate(559.30 147.10) rotate(0.03) scale(1 1.06) translate(-559.30 -147.10)" >7418</text>
<text x="590.00" y="149.23" font-size="6.26" fill="#595959" font-weight="400" text-anchor="start" transform="translate(590.00 147.10) rotate(0.03) scale(1 1.06) translate(-590.00 -147.10)" >5999</text>
<text x="621.30" y="149.23" font-size="6.26" fill="#1890ff" font-weight="400" text-anchor="start" transform="translate(621.30 147.10) rotate(0.03) scale(1 1.06) translate(-621.30 -147.10)" >1080</text>
<line x1="445.60" y1="155.00" x2="655.00" y2="155.00" stroke="#e4e4e4" stroke-width="0.5"/>
<text x="448.80" y="165.03" font-size="6.26" fill="#595959" font-weight="400" text-anchor="start" transform="translate(448.80 162.90) rotate(0.03) scale(1 1.06) translate(-448.80 -162.90)" >Streptomyces_globisporus</text>
<text x="559.30" y="165.03" font-size="6.26" fill="#595959" font-weight="400" text-anchor="start" transform="translate(559.30 162.90) rotate(0.03) scale(1 1.06) translate(-559.30 -162.90)" >6939</text>
<text x="590.00" y="165.03" font-size="6.26" fill="#595959" font-weight="400" text-anchor="start" transform="translate(590.00 162.90) rotate(0.03) scale(1 1.06) translate(-590.00 -162.90)" >6116</text>
<text x="621.30" y="165.03" font-size="6.26" fill="#1890ff" font-weight="400" text-anchor="start" transform="translate(621.30 162.90) rotate(0.03) scale(1 1.06) translate(-621.30 -162.90)" >628</text>
<line x1="445.60" y1="170.80" x2="655.00" y2="170.80" stroke="#e4e4e4" stroke-width="0.5"/>
<text x="448.80" y="180.83" font-size="6.26" fill="#595959" font-weight="400" text-anchor="start" transform="translate(448.80 178.70) rotate(0.03) scale(1 1.06) translate(-448.80 -178.70)" >Streptomyces_sp_Mg1</text>
<text x="559.30" y="180.83" font-size="6.26" fill="#595959" font-weight="400" text-anchor="start" transform="translate(559.30 178.70) rotate(0.03) scale(1 1.06) translate(-559.30 -178.70)" >7764</text>
<text x="590.00" y="180.83" font-size="6.26" fill="#595959" font-weight="400" text-anchor="start" transform="translate(590.00 178.70) rotate(0.03) scale(1 1.06) translate(-590.00 -178.70)" >5807</text>
<text x="621.30" y="180.83" font-size="6.26" fill="#1890ff" font-weight="400" text-anchor="start" transform="translate(621.30 178.70) rotate(0.03) scale(1 1.06) translate(-621.30 -178.70)" >1700</text>
<text font-size="6.26" fill="#595959" transform="translate(448.8 203) rotate(0.03) scale(1 1.06) translate(-448.8 -203)"><tspan x="448.8" y="200.7">The species form 9637 clusters, 9155 orthologous clusters (at least</tspan><tspan x="448.8" y="209.8">contains two species) and <tspan fill="#1890ff">482</tspan> single-copy gene clusters.</tspan></text>
<rect x="441.65" y="224.75" width="213.30" height="124.20" fill="#fff" stroke="#e2e2e2" stroke-width="0.5" rx="1" />
<line x1="441.60" y1="245.40" x2="655.00" y2="245.40" stroke="#e2e2e2" stroke-width="0.5"/>
<text x="461.80" y="237.99" font-size="7.62" fill="#5a5a5a" font-weight="700" text-anchor="start" transform="translate(461.80 235.40) rotate(0.03) scale(1 1.06) translate(-461.80 -235.40)" >Download</text>
<text x="450.90" y="259.00" font-size="7.66" fill="#2d8cf0" font-weight="400" text-anchor="start" transform="translate(450.90 256.40) rotate(0.03) scale(1 1.06) translate(-450.90 -256.40)" >All protein sequence</text>
<text x="450.90" y="279.00" font-size="7.66" fill="#2d8cf0" font-weight="400" text-anchor="start" transform="translate(450.90 276.40) rotate(0.03) scale(1 1.06) translate(-450.90 -276.40)" >All cluster(one line is one cluster)</text>
<text x="450.90" y="299.50" font-size="7.66" fill="#2d8cf0" font-weight="400" text-anchor="start" transform="translate(450.90 296.90) rotate(0.03) scale(1 1.06) translate(-450.90 -296.90)" >co_orthologs</text>
<text x="450.90" y="319.90" font-size="7.66" fill="#2d8cf0" font-weight="400" text-anchor="start" transform="translate(450.90 317.30) rotate(0.03) scale(1 1.06) translate(-450.90 -317.30)" >inparalogs</text>
<text x="450.90" y="340.00" font-size="7.66" fill="#2d8cf0" font-weight="400" text-anchor="start" transform="translate(450.90 337.40) rotate(0.03) scale(1 1.06) translate(-450.90 -337.40)" >orthologs</text>
<line x1="441.60" y1="265.90" x2="655.00" y2="265.90" stroke="#e2e2e2" stroke-width="0.5"/>
<line x1="441.60" y1="286.30" x2="655.00" y2="286.30" stroke="#e2e2e2" stroke-width="0.5"/>
<line x1="441.60" y1="306.80" x2="655.00" y2="306.80" stroke="#e2e2e2" stroke-width="0.5"/>
<line x1="441.60" y1="327.30" x2="655.00" y2="327.30" stroke="#e2e2e2" stroke-width="0.5"/>
<rect x="441.65" y="357.15" width="213.30" height="39.80" fill="#fff" stroke="#e2e2e2" stroke-width="0.5" rx="1" />
<line x1="441.60" y1="376.80" x2="655.00" y2="376.80" stroke="#e2e2e2" stroke-width="0.5"/>
<text x="461.30" y="369.29" font-size="7.62" fill="#5a5a5a" font-weight="700" text-anchor="start" transform="translate(461.30 366.70) rotate(0.03) scale(1 1.06) translate(-461.30 -366.70)" >Static Analysis</text>
<text x="450.60" y="390.10" font-size="7.66" fill="#2d8cf0" font-weight="400" text-anchor="start" transform="translate(450.60 387.50) rotate(0.03) scale(1 1.06) translate(-450.60 -387.50)" >Pairwise HeatMap</text>
<rect x="446.3" y="33.3" width="5.3" height="5.4" fill="#e3f1ff" stroke="#5b9ae6" stroke-width="0.6"/>
<path d="M448.1 34.6 v1.4 q0 0.7 0.85 0.7 q0.85 0 0.85 -0.7 v-1.4" stroke="#3a80d8" stroke-width="0.5" fill="none"/>
<path d="M451.4 232.2 h2.5 l0.8 0.9 h3.8 v4.3 h-7.1 z" fill="#e3f1ff" stroke="#3a80d8" stroke-width="0.7" stroke-linejoin="round"/>
<path d="M452.8 234.6 h4.2" stroke="#3a80d8" stroke-width="0.4" stroke-opacity="0.6"/>
<rect x="450.6" y="363.3" width="7.9" height="5.9" rx="0.3" fill="#e3f1ff" stroke="#3a80d8" stroke-width="0.7"/>
<path d="M452.0 367.7 l1.5 -1.5 l1.3 0.7 l3.4 -3.6" fill="none" stroke="#2f72c9" stroke-width="0.6"/>
<rect x="431.70" y="412.20" width="223.80" height="183.50" fill="#f6f6f6" />
<rect x="502.20" y="419.80" width="18.30" height="9.40" fill="#f26c52" />
<rect x="520.90" y="419.80" width="18.30" height="9.40" fill="#fcc4ab" />
<rect x="539.60" y="419.80" width="18.30" height="9.40" fill="#fcc4ab" />
<rect x="558.30" y="419.80" width="18.30" height="9.40" fill="#fcc4ab" />
<rect x="577.00" y="419.80" width="18.30" height="9.40" fill="#f26c52" />
<rect x="595.70" y="419.80" width="18.30" height="9.40" fill="#f99c80" />
<rect x="614.40" y="419.80" width="18.30" height="9.40" fill="#fbb297" />
<text x="499.60" y="425.83" font-size="3.92" fill="#222" font-weight="400" text-anchor="end" transform="translate(499.60 424.50) rotate(0.03) scale(1 1.06) translate(-499.60 -424.50)" stroke="#222" stroke-width="0.06">Streptomyces_sp_Mg1</text>
<rect x="502.20" y="429.60" width="18.30" height="9.40" fill="#fdd3bd" />
<rect x="520.90" y="429.60" width="18.30" height="9.40" fill="#f99c80" />
<rect x="539.60" y="429.60" width="18.30" height="9.40" fill="#fcc4ab" />
<rect x="558.30" y="429.60" width="18.30" height="9.40" fill="#a91d25" />
<rect x="577.00" y="429.60" width="18.30" height="9.40" fill="#fbb297" />
<rect x="595.70" y="429.60" width="18.30" height="9.40" fill="#fcc4ab" />
<rect x="614.40" y="429.60" width="18.30" height="9.40" fill="#fafafa" />
<rect x="633.10" y="429.60" width="18.30" height="9.40" fill="#f99c80" />
<text x="499.60" y="435.63" font-size="3.92" fill="#222" font-weight="400" text-anchor="end" transform="translate(499.60 434.30) rotate(0.03) scale(1 1.06) translate(-499.60 -434.30)" stroke="#222" stroke-width="0.06">Streptomyces_globisporus</text>
<rect x="502.20" y="439.40" width="18.30" height="9.40" fill="#f99c80" />
<rect x="520.90" y="439.40" width="18.30" height="9.40" fill="#fbb297" />
<rect x="539.60" y="439.40" width="18.30" height="9.40" fill="#f99c80" />
<rect x="558.30" y="439.40" width="18.30" height="9.40" fill="#fdd3bd" />
<rect x="577.00" y="439.40" width="18.30" height="9.40" fill="#a91d25" />
<rect x="595.70" y="439.40" width="18.30" height="9.40" fill="#fafafa" />
<rect x="614.40" y="439.40" width="18.30" height="9.40" fill="#fcc4ab" />
<rect x="633.10" y="439.40" width="18.30" height="9.40" fill="#f99c80" />
<text x="499.60" y="445.43" font-size="3.92" fill="#222" font-weight="400" text-anchor="end" transform="translate(499.60 444.10) rotate(0.03) scale(1 1.06) translate(-499.60 -444.10)" stroke="#222" stroke-width="0.06">Streptomyces_lividans</text>
<rect x="502.20" y="449.20" width="18.30" height="9.40" fill="#a91d25" />
<rect x="520.90" y="449.20" width="18.30" height="9.40" fill="#fbb297" />
<rect x="539.60" y="449.20" width="18.30" height="9.40" fill="#f99c80" />
<rect x="558.30" y="449.20" width="18.30" height="9.40" fill="#fbb297" />
<rect x="577.00" y="449.20" width="18.30" height="9.40" fill="#fafafa" />
<rect x="595.70" y="449.20" width="18.30" height="9.40" fill="#a91d25" />
<rect x="614.40" y="449.20" width="18.30" height="9.40" fill="#fbb297" />
<rect x="633.10" y="449.20" width="18.30" height="9.40" fill="#f26c52" />
<text x="499.60" y="455.23" font-size="3.92" fill="#222" font-weight="400" text-anchor="end" transform="translate(499.60 453.90) rotate(0.03) scale(1 1.06) translate(-499.60 -453.90)" stroke="#222" stroke-width="0.06">Streptomyces_rapamycinicus</text>
<rect x="502.20" y="459.00" width="18.30" height="9.40" fill="#fcc4ab" />
<rect x="520.90" y="459.00" width="18.30" height="9.40" fill="#fbb297" />
<rect x="539.60" y="459.00" width="18.30" height="9.40" fill="#fcc4ab" />
<rect x="558.30" y="459.00" width="18.30" height="9.40" fill="#fafafa" />
<rect x="577.00" y="459.00" width="18.30" height="9.40" fill="#fbb297" />
<rect x="595.70" y="459.00" width="18.30" height="9.40" fill="#fcc4ab" />
<rect x="614.40" y="459.00" width="18.30" height="9.40" fill="#a91d25" />
<rect x="633.10" y="459.00" width="18.30" height="9.40" fill="#fbb297" />
<text x="499.60" y="465.03" font-size="3.92" fill="#222" font-weight="400" text-anchor="end" transform="translate(499.60 463.70) rotate(0.03) scale(1 1.06) translate(-499.60 -463.70)" stroke="#222" stroke-width="0.06">Streptomyces_fulvissimus</text>
<rect x="502.20" y="468.80" width="18.30" height="9.40" fill="#fcc4ab" />
<rect x="520.90" y="468.80" width="18.30" height="9.40" fill="#fbb297" />
<rect x="539.60" y="468.80" width="18.30" height="9.40" fill="#fafafa" />
<rect x="558.30" y="468.80" width="18.30" height="9.40" fill="#fcc4ab" />
<rect x="577.00" y="468.80" width="18.30" height="9.40" fill="#fbb297" />
<rect x="595.70" y="468.80" width="18.30" height="9.40" fill="#fbb297" />
<rect x="614.40" y="468.80" width="18.30" height="9.40" fill="#fcc4ab" />
<rect x="633.10" y="468.80" width="18.30" height="9.40" fill="#fcc4ab" />
<text x="499.60" y="474.83" font-size="3.92" fill="#222" font-weight="400" text-anchor="end" transform="translate(499.60 473.50) rotate(0.03) scale(1 1.06) translate(-499.60 -473.50)" stroke="#222" stroke-width="0.06">Streptomyces_albidoflavus</text>
<rect x="502.20" y="478.60" width="18.30" height="9.40" fill="#fcc4ab" />
<rect x="520.90" y="478.60" width="18.30" height="9.40" fill="#fafafa" />
<rect x="539.60" y="478.60" width="18.30" height="9.40" fill="#fbb297" />
<rect x="558.30" y="478.60" width="18.30" height="9.40" fill="#fbb297" />
<rect x="577.00" y="478.60" width="18.30" height="9.40" fill="#fbb297" />
<rect x="595.70" y="478.60" width="18.30" height="9.40" fill="#fbb297" />
<rect x="614.40" y="478.60" width="18.30" height="9.40" fill="#f99c80" />
<rect x="633.10" y="478.60" width="18.30" height="9.40" fill="#fcc4ab" />
<text x="499.60" y="484.63" font-size="3.92" fill="#222" font-weight="400" text-anchor="end" transform="translate(499.60 483.30) rotate(0.03) scale(1 1.06) translate(-499.60 -483.30)" stroke="#222" stroke-width="0.06">Streptomyces_sp_Sv_ACTE_SirexAA</text>
<rect x="502.20" y="488.40" width="18.30" height="9.40" fill="#fafafa" />
<rect x="520.90" y="488.40" width="18.30" height="9.40" fill="#fcc4ab" />
<rect x="539.60" y="488.40" width="18.30" height="9.40" fill="#fcc4ab" />
<rect x="558.30" y="488.40" width="18.30" height="9.40" fill="#fbb297" />
<rect x="577.00" y="488.40" width="18.30" height="9.40" fill="#a91d25" />
<rect x="595.70" y="488.40" width="18.30" height="9.40" fill="#f99c80" />
<rect x="614.40" y="488.40" width="18.30" height="9.40" fill="#fdd3bd" />
<rect x="633.10" y="488.40" width="18.30" height="9.40" fill="#f26c52" />
<text x="499.60" y="494.43" font-size="3.92" fill="#222" font-weight="400" text-anchor="end" transform="translate(499.60 493.10) rotate(0.03) scale(1 1.06) translate(-499.60 -493.10)" stroke="#222" stroke-width="0.06">Streptomyces_cattleya</text>
<text x="508.05" y="502.30" font-size="3.95" fill="#222" stroke="#222" stroke-width="0.06" transform="translate(508.05 502.30) rotate(90) scale(1 1.06) translate(-508.05 -502.30)">Streptomyces_cattleya</text>
<text x="526.75" y="502.30" font-size="3.95" fill="#222" stroke="#222" stroke-width="0.06" transform="translate(526.75 502.30) rotate(90) scale(1 1.06) translate(-526.75 -502.30)">Streptomyces_sp_Sv_ACTE_SirexAA</text>
<text x="545.45" y="502.30" font-size="3.95" fill="#222" stroke="#222" stroke-width="0.06" transform="translate(545.45 502.30) rotate(90) scale(1 1.06) translate(-545.45 -502.30)">Streptomyces_albidoflavus</text>
<text x="564.15" y="502.30" font-size="3.95" fill="#222" stroke="#222" stroke-width="0.06" transform="translate(564.15 502.30) rotate(90) scale(1 1.06) translate(-564.15 -502.30)">Streptomyces_fulvissimus</text>
<text x="582.85" y="502.30" font-size="3.95" fill="#222" stroke="#222" stroke-width="0.06" transform="translate(582.85 502.30) rotate(90) scale(1 1.06) translate(-582.85 -502.30)">Streptomyces_rapamycinicus</text>
<text x="601.55" y="502.30" font-size="3.95" fill="#222" stroke="#222" stroke-width="0.06" transform="translate(601.55 502.30) rotate(90) scale(1 1.06) translate(-601.55 -502.30)">Streptomyces_lividans</text>
<text x="620.25" y="502.30" font-size="3.95" fill="#222" stroke="#222" stroke-width="0.06" transform="translate(620.25 502.30) rotate(90) scale(1 1.06) translate(-620.25 -502.30)">Streptomyces_globisporus</text>
<text x="638.95" y="502.30" font-size="3.95" fill="#222" stroke="#222" stroke-width="0.06" transform="translate(638.95 502.30) rotate(90) scale(1 1.06) translate(-638.95 -502.30)">Streptomyces_sp_Mg1</text>
<defs><linearGradient id="hg" x1="0" x2="1" y1="0" y2="0"><stop offset="0" stop-color="#fdf1ea"/><stop offset="0.35" stop-color="#fbb297"/><stop offset="0.7" stop-color="#ee5f47"/><stop offset="1" stop-color="#a5161f"/></linearGradient></defs>
<rect x="509.70" y="580.10" width="53.40" height="5.30" fill="url(#hg)" />
<text x="504.00" y="592.13" font-size="3.9" fill="#666" font-weight="400" text-anchor="middle" transform="translate(504.00 590.80) rotate(0.03) scale(1 1.06) translate(-504.00 -590.80)" >6950</text>
<text x="571.00" y="592.13" font-size="3.9" fill="#666" font-weight="400" text-anchor="middle" transform="translate(571.00 590.80) rotate(0.03) scale(1 1.06) translate(-571.00 -590.80)" >7550</text>
</svg></body></html>
